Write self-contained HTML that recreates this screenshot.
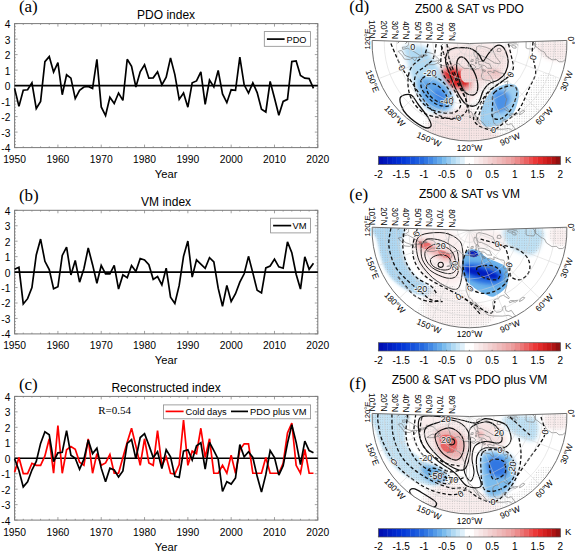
<!DOCTYPE html>
<html><head><meta charset="utf-8"><style>
html,body{margin:0;padding:0;background:#fff;}
svg{display:block;}
</style></head><body>
<svg width="575" height="552" viewBox="0 0 575 552" font-family='"Liberation Sans", sans-serif' fill="#000">
<rect width="575" height="552" fill="#fff"/>
<path d="M14.60 147.60v-3.0M14.60 23.60v3.0M23.26 147.60v-1.3M23.26 23.60v1.3M31.93 147.60v-1.3M31.93 23.60v1.3M40.59 147.60v-1.3M40.59 23.60v1.3M49.25 147.60v-1.3M49.25 23.60v1.3M57.91 147.60v-3.0M57.91 23.60v3.0M66.58 147.60v-1.3M66.58 23.60v1.3M75.24 147.60v-1.3M75.24 23.60v1.3M83.90 147.60v-1.3M83.90 23.60v1.3M92.57 147.60v-1.3M92.57 23.60v1.3M101.23 147.60v-3.0M101.23 23.60v3.0M109.89 147.60v-1.3M109.89 23.60v1.3M118.55 147.60v-1.3M118.55 23.60v1.3M127.22 147.60v-1.3M127.22 23.60v1.3M135.88 147.60v-1.3M135.88 23.60v1.3M144.54 147.60v-3.0M144.54 23.60v3.0M153.21 147.60v-1.3M153.21 23.60v1.3M161.87 147.60v-1.3M161.87 23.60v1.3M170.53 147.60v-1.3M170.53 23.60v1.3M179.19 147.60v-1.3M179.19 23.60v1.3M187.86 147.60v-3.0M187.86 23.60v3.0M196.52 147.60v-1.3M196.52 23.60v1.3M205.18 147.60v-1.3M205.18 23.60v1.3M213.85 147.60v-1.3M213.85 23.60v1.3M222.51 147.60v-1.3M222.51 23.60v1.3M231.17 147.60v-3.0M231.17 23.60v3.0M239.83 147.60v-1.3M239.83 23.60v1.3M248.50 147.60v-1.3M248.50 23.60v1.3M257.16 147.60v-1.3M257.16 23.60v1.3M265.82 147.60v-1.3M265.82 23.60v1.3M274.49 147.60v-3.0M274.49 23.60v3.0M283.15 147.60v-1.3M283.15 23.60v1.3M291.81 147.60v-1.3M291.81 23.60v1.3M300.47 147.60v-1.3M300.47 23.60v1.3M309.14 147.60v-1.3M309.14 23.60v1.3M317.80 147.60v-3.0M317.80 23.60v3.0M14.60 147.60h3.0M317.80 147.60h-3.0M14.60 144.50h1.3M317.80 144.50h-1.3M14.60 141.40h1.3M317.80 141.40h-1.3M14.60 138.30h1.3M317.80 138.30h-1.3M14.60 135.20h1.3M317.80 135.20h-1.3M14.60 132.10h3.0M317.80 132.10h-3.0M14.60 129.00h1.3M317.80 129.00h-1.3M14.60 125.90h1.3M317.80 125.90h-1.3M14.60 122.80h1.3M317.80 122.80h-1.3M14.60 119.70h1.3M317.80 119.70h-1.3M14.60 116.60h3.0M317.80 116.60h-3.0M14.60 113.50h1.3M317.80 113.50h-1.3M14.60 110.40h1.3M317.80 110.40h-1.3M14.60 107.30h1.3M317.80 107.30h-1.3M14.60 104.20h1.3M317.80 104.20h-1.3M14.60 101.10h3.0M317.80 101.10h-3.0M14.60 98.00h1.3M317.80 98.00h-1.3M14.60 94.90h1.3M317.80 94.90h-1.3M14.60 91.80h1.3M317.80 91.80h-1.3M14.60 88.70h1.3M317.80 88.70h-1.3M14.60 85.60h3.0M317.80 85.60h-3.0M14.60 82.50h1.3M317.80 82.50h-1.3M14.60 79.40h1.3M317.80 79.40h-1.3M14.60 76.30h1.3M317.80 76.30h-1.3M14.60 73.20h1.3M317.80 73.20h-1.3M14.60 70.10h3.0M317.80 70.10h-3.0M14.60 67.00h1.3M317.80 67.00h-1.3M14.60 63.90h1.3M317.80 63.90h-1.3M14.60 60.80h1.3M317.80 60.80h-1.3M14.60 57.70h1.3M317.80 57.70h-1.3M14.60 54.60h3.0M317.80 54.60h-3.0M14.60 51.50h1.3M317.80 51.50h-1.3M14.60 48.40h1.3M317.80 48.40h-1.3M14.60 45.30h1.3M317.80 45.30h-1.3M14.60 42.20h1.3M317.80 42.20h-1.3M14.60 39.10h3.0M317.80 39.10h-3.0M14.60 36.00h1.3M317.80 36.00h-1.3M14.60 32.90h1.3M317.80 32.90h-1.3M14.60 29.80h1.3M317.80 29.80h-1.3M14.60 26.70h1.3M317.80 26.70h-1.3M14.60 23.60h3.0M317.80 23.60h-3.0" stroke="#8a8a8a" stroke-width="0.8" fill="none"/>
<rect x="14.6" y="23.6" width="303.2" height="124.0" fill="none" stroke="#7a7a7a" stroke-width="1"/>
<line x1="14.6" y1="85.60" x2="317.8" y2="85.60" stroke="#000" stroke-width="1.6"/>
<polyline points="14.60,88.39 18.93,106.37 23.26,90.25 27.59,89.78 31.93,82.81 36.26,108.54 40.59,101.41 44.92,61.57 49.25,56.61 53.58,72.04 57.91,62.66 62.25,94.74 66.58,74.75 70.91,78.16 75.24,98.62 79.57,90.25 83.90,86.99 88.23,86.38 92.57,88.39 96.90,59.25 101.23,106.91 105.56,115.51 109.89,97.22 114.22,103.58 118.55,93.04 122.89,100.32 127.22,59.25 131.55,66.22 135.88,86.99 140.21,71.80 144.54,64.83 148.87,78.16 153.21,77.85 157.54,71.80 161.87,84.82 166.20,77.23 170.53,57.85 174.86,74.59 179.19,99.39 183.53,93.04 187.86,107.14 192.19,82.81 196.52,80.95 200.85,71.80 205.18,104.35 209.51,80.02 213.85,86.99 218.18,70.41 222.51,93.97 226.84,102.65 231.17,89.78 235.50,90.25 239.83,57.08 244.17,84.82 248.50,93.04 252.83,82.81 257.16,92.57 261.49,109.16 265.82,111.95 270.15,81.41 274.49,98.00 278.82,115.20 283.15,101.41 287.48,99.39 291.81,61.57 296.14,60.95 300.47,75.37 304.81,78.16 309.14,78.62 313.47,88.39" fill="none" stroke="#000" stroke-width="1.7" stroke-linejoin="miter" stroke-miterlimit="3"/>
<text x="10.4" y="152.00" text-anchor="end" font-size="10.2">-4</text>
<text x="10.4" y="136.50" text-anchor="end" font-size="10.2">-3</text>
<text x="10.4" y="121.00" text-anchor="end" font-size="10.2">-2</text>
<text x="10.4" y="105.50" text-anchor="end" font-size="10.2">-1</text>
<text x="10.4" y="90.00" text-anchor="end" font-size="10.2">0</text>
<text x="10.4" y="74.50" text-anchor="end" font-size="10.2">1</text>
<text x="10.4" y="59.00" text-anchor="end" font-size="10.2">2</text>
<text x="10.4" y="43.50" text-anchor="end" font-size="10.2">3</text>
<text x="10.4" y="28.00" text-anchor="end" font-size="10.2">4</text>
<text x="14.60" y="163.00" text-anchor="middle" font-size="10.3">1950</text>
<text x="57.91" y="163.00" text-anchor="middle" font-size="10.3">1960</text>
<text x="101.23" y="163.00" text-anchor="middle" font-size="10.3">1970</text>
<text x="144.54" y="163.00" text-anchor="middle" font-size="10.3">1980</text>
<text x="187.86" y="163.00" text-anchor="middle" font-size="10.3">1990</text>
<text x="231.17" y="163.00" text-anchor="middle" font-size="10.3">2000</text>
<text x="274.49" y="163.00" text-anchor="middle" font-size="10.3">2010</text>
<text x="317.80" y="163.00" text-anchor="middle" font-size="10.3">2020</text>
<text x="166.1" y="178.00" text-anchor="middle" font-size="11.2">Year</text>
<text x="166.1" y="18.80" text-anchor="middle" font-size="12">PDO index</text>
<text x="18.9" y="11.8" font-family='"Liberation Serif", serif' font-size="17">(a)</text>
<rect x="264.3" y="31.6" width="46.1" height="14.7" fill="#fff" stroke="#8a8a8a" stroke-width="0.8"/><line x1="266.9" y1="39.1" x2="284.6" y2="39.1" stroke="#000" stroke-width="1.7"/><text x="286.5" y="42.5" font-size="9.2">PDO</text>
<path d="M14.60 333.90v-3.0M14.60 210.30v3.0M23.26 333.90v-1.3M23.26 210.30v1.3M31.93 333.90v-1.3M31.93 210.30v1.3M40.59 333.90v-1.3M40.59 210.30v1.3M49.25 333.90v-1.3M49.25 210.30v1.3M57.91 333.90v-3.0M57.91 210.30v3.0M66.58 333.90v-1.3M66.58 210.30v1.3M75.24 333.90v-1.3M75.24 210.30v1.3M83.90 333.90v-1.3M83.90 210.30v1.3M92.57 333.90v-1.3M92.57 210.30v1.3M101.23 333.90v-3.0M101.23 210.30v3.0M109.89 333.90v-1.3M109.89 210.30v1.3M118.55 333.90v-1.3M118.55 210.30v1.3M127.22 333.90v-1.3M127.22 210.30v1.3M135.88 333.90v-1.3M135.88 210.30v1.3M144.54 333.90v-3.0M144.54 210.30v3.0M153.21 333.90v-1.3M153.21 210.30v1.3M161.87 333.90v-1.3M161.87 210.30v1.3M170.53 333.90v-1.3M170.53 210.30v1.3M179.19 333.90v-1.3M179.19 210.30v1.3M187.86 333.90v-3.0M187.86 210.30v3.0M196.52 333.90v-1.3M196.52 210.30v1.3M205.18 333.90v-1.3M205.18 210.30v1.3M213.85 333.90v-1.3M213.85 210.30v1.3M222.51 333.90v-1.3M222.51 210.30v1.3M231.17 333.90v-3.0M231.17 210.30v3.0M239.83 333.90v-1.3M239.83 210.30v1.3M248.50 333.90v-1.3M248.50 210.30v1.3M257.16 333.90v-1.3M257.16 210.30v1.3M265.82 333.90v-1.3M265.82 210.30v1.3M274.49 333.90v-3.0M274.49 210.30v3.0M283.15 333.90v-1.3M283.15 210.30v1.3M291.81 333.90v-1.3M291.81 210.30v1.3M300.47 333.90v-1.3M300.47 210.30v1.3M309.14 333.90v-1.3M309.14 210.30v1.3M317.80 333.90v-3.0M317.80 210.30v3.0M14.60 333.90h3.0M317.80 333.90h-3.0M14.60 330.81h1.3M317.80 330.81h-1.3M14.60 327.72h1.3M317.80 327.72h-1.3M14.60 324.63h1.3M317.80 324.63h-1.3M14.60 321.54h1.3M317.80 321.54h-1.3M14.60 318.45h3.0M317.80 318.45h-3.0M14.60 315.36h1.3M317.80 315.36h-1.3M14.60 312.27h1.3M317.80 312.27h-1.3M14.60 309.18h1.3M317.80 309.18h-1.3M14.60 306.09h1.3M317.80 306.09h-1.3M14.60 303.00h3.0M317.80 303.00h-3.0M14.60 299.91h1.3M317.80 299.91h-1.3M14.60 296.82h1.3M317.80 296.82h-1.3M14.60 293.73h1.3M317.80 293.73h-1.3M14.60 290.64h1.3M317.80 290.64h-1.3M14.60 287.55h3.0M317.80 287.55h-3.0M14.60 284.46h1.3M317.80 284.46h-1.3M14.60 281.37h1.3M317.80 281.37h-1.3M14.60 278.28h1.3M317.80 278.28h-1.3M14.60 275.19h1.3M317.80 275.19h-1.3M14.60 272.10h3.0M317.80 272.10h-3.0M14.60 269.01h1.3M317.80 269.01h-1.3M14.60 265.92h1.3M317.80 265.92h-1.3M14.60 262.83h1.3M317.80 262.83h-1.3M14.60 259.74h1.3M317.80 259.74h-1.3M14.60 256.65h3.0M317.80 256.65h-3.0M14.60 253.56h1.3M317.80 253.56h-1.3M14.60 250.47h1.3M317.80 250.47h-1.3M14.60 247.38h1.3M317.80 247.38h-1.3M14.60 244.29h1.3M317.80 244.29h-1.3M14.60 241.20h3.0M317.80 241.20h-3.0M14.60 238.11h1.3M317.80 238.11h-1.3M14.60 235.02h1.3M317.80 235.02h-1.3M14.60 231.93h1.3M317.80 231.93h-1.3M14.60 228.84h1.3M317.80 228.84h-1.3M14.60 225.75h3.0M317.80 225.75h-3.0M14.60 222.66h1.3M317.80 222.66h-1.3M14.60 219.57h1.3M317.80 219.57h-1.3M14.60 216.48h1.3M317.80 216.48h-1.3M14.60 213.39h1.3M317.80 213.39h-1.3M14.60 210.30h3.0M317.80 210.30h-3.0" stroke="#8a8a8a" stroke-width="0.8" fill="none"/>
<rect x="14.6" y="210.3" width="303.2" height="123.59999999999997" fill="none" stroke="#7a7a7a" stroke-width="1"/>
<line x1="14.6" y1="272.10" x2="317.8" y2="272.10" stroke="#000" stroke-width="1.6"/>
<polyline points="14.60,269.32 18.93,267.31 23.26,303.93 27.59,298.67 31.93,287.55 36.26,254.95 40.59,239.04 44.92,261.29 49.25,269.63 53.58,288.79 57.91,286.78 62.25,255.41 66.58,247.07 70.91,274.88 75.24,260.51 79.57,282.14 83.90,268.70 88.23,248.00 92.57,264.68 96.90,283.22 101.23,265.46 105.56,273.80 109.89,273.80 114.22,265.46 118.55,289.10 122.89,274.88 127.22,277.66 131.55,265.46 135.88,271.48 140.21,258.50 144.54,259.89 148.87,264.68 153.21,279.36 157.54,276.58 161.87,284.92 166.20,268.24 170.53,297.13 174.86,303.46 179.19,285.39 183.53,256.34 187.86,241.05 192.19,277.04 196.52,259.89 200.85,264.07 205.18,268.24 209.51,257.73 213.85,261.90 218.18,288.17 222.51,306.24 226.84,285.39 231.17,301.46 235.50,293.73 239.83,282.14 244.17,273.80 248.50,256.34 252.83,272.87 257.16,290.33 261.49,292.96 265.82,267.93 270.15,266.07 274.49,259.12 278.82,266.85 283.15,268.24 287.48,241.82 291.81,252.63 296.14,274.26 300.47,289.10 304.81,256.80 309.14,269.32 313.47,263.29" fill="none" stroke="#000" stroke-width="1.7" stroke-linejoin="miter" stroke-miterlimit="3"/>
<text x="10.4" y="338.30" text-anchor="end" font-size="10.2">-4</text>
<text x="10.4" y="322.85" text-anchor="end" font-size="10.2">-3</text>
<text x="10.4" y="307.40" text-anchor="end" font-size="10.2">-2</text>
<text x="10.4" y="291.95" text-anchor="end" font-size="10.2">-1</text>
<text x="10.4" y="276.50" text-anchor="end" font-size="10.2">0</text>
<text x="10.4" y="261.05" text-anchor="end" font-size="10.2">1</text>
<text x="10.4" y="245.60" text-anchor="end" font-size="10.2">2</text>
<text x="10.4" y="230.15" text-anchor="end" font-size="10.2">3</text>
<text x="10.4" y="214.70" text-anchor="end" font-size="10.2">4</text>
<text x="14.60" y="349.30" text-anchor="middle" font-size="10.3">1950</text>
<text x="57.91" y="349.30" text-anchor="middle" font-size="10.3">1960</text>
<text x="101.23" y="349.30" text-anchor="middle" font-size="10.3">1970</text>
<text x="144.54" y="349.30" text-anchor="middle" font-size="10.3">1980</text>
<text x="187.86" y="349.30" text-anchor="middle" font-size="10.3">1990</text>
<text x="231.17" y="349.30" text-anchor="middle" font-size="10.3">2000</text>
<text x="274.49" y="349.30" text-anchor="middle" font-size="10.3">2010</text>
<text x="317.80" y="349.30" text-anchor="middle" font-size="10.3">2020</text>
<text x="166.1" y="364.30" text-anchor="middle" font-size="11.2">Year</text>
<text x="166.1" y="205.50" text-anchor="middle" font-size="12">VM index</text>
<text x="18.9" y="201.0" font-family='"Liberation Serif", serif' font-size="17">(b)</text>
<rect x="270.6" y="218.2" width="39.8" height="14.7" fill="#fff" stroke="#8a8a8a" stroke-width="0.8"/><line x1="273.1" y1="225.6" x2="291.2" y2="225.6" stroke="#000" stroke-width="1.7"/><text x="292.6" y="229.1" font-size="9.4">VM</text>
<path d="M14.60 520.10v-3.0M14.60 396.40v3.0M23.26 520.10v-1.3M23.26 396.40v1.3M31.93 520.10v-1.3M31.93 396.40v1.3M40.59 520.10v-1.3M40.59 396.40v1.3M49.25 520.10v-1.3M49.25 396.40v1.3M57.91 520.10v-3.0M57.91 396.40v3.0M66.58 520.10v-1.3M66.58 396.40v1.3M75.24 520.10v-1.3M75.24 396.40v1.3M83.90 520.10v-1.3M83.90 396.40v1.3M92.57 520.10v-1.3M92.57 396.40v1.3M101.23 520.10v-3.0M101.23 396.40v3.0M109.89 520.10v-1.3M109.89 396.40v1.3M118.55 520.10v-1.3M118.55 396.40v1.3M127.22 520.10v-1.3M127.22 396.40v1.3M135.88 520.10v-1.3M135.88 396.40v1.3M144.54 520.10v-3.0M144.54 396.40v3.0M153.21 520.10v-1.3M153.21 396.40v1.3M161.87 520.10v-1.3M161.87 396.40v1.3M170.53 520.10v-1.3M170.53 396.40v1.3M179.19 520.10v-1.3M179.19 396.40v1.3M187.86 520.10v-3.0M187.86 396.40v3.0M196.52 520.10v-1.3M196.52 396.40v1.3M205.18 520.10v-1.3M205.18 396.40v1.3M213.85 520.10v-1.3M213.85 396.40v1.3M222.51 520.10v-1.3M222.51 396.40v1.3M231.17 520.10v-3.0M231.17 396.40v3.0M239.83 520.10v-1.3M239.83 396.40v1.3M248.50 520.10v-1.3M248.50 396.40v1.3M257.16 520.10v-1.3M257.16 396.40v1.3M265.82 520.10v-1.3M265.82 396.40v1.3M274.49 520.10v-3.0M274.49 396.40v3.0M283.15 520.10v-1.3M283.15 396.40v1.3M291.81 520.10v-1.3M291.81 396.40v1.3M300.47 520.10v-1.3M300.47 396.40v1.3M309.14 520.10v-1.3M309.14 396.40v1.3M317.80 520.10v-3.0M317.80 396.40v3.0M14.60 520.10h3.0M317.80 520.10h-3.0M14.60 517.01h1.3M317.80 517.01h-1.3M14.60 513.91h1.3M317.80 513.91h-1.3M14.60 510.82h1.3M317.80 510.82h-1.3M14.60 507.73h1.3M317.80 507.73h-1.3M14.60 504.64h3.0M317.80 504.64h-3.0M14.60 501.55h1.3M317.80 501.55h-1.3M14.60 498.45h1.3M317.80 498.45h-1.3M14.60 495.36h1.3M317.80 495.36h-1.3M14.60 492.27h1.3M317.80 492.27h-1.3M14.60 489.18h3.0M317.80 489.18h-3.0M14.60 486.08h1.3M317.80 486.08h-1.3M14.60 482.99h1.3M317.80 482.99h-1.3M14.60 479.90h1.3M317.80 479.90h-1.3M14.60 476.81h1.3M317.80 476.81h-1.3M14.60 473.71h3.0M317.80 473.71h-3.0M14.60 470.62h1.3M317.80 470.62h-1.3M14.60 467.53h1.3M317.80 467.53h-1.3M14.60 464.44h1.3M317.80 464.44h-1.3M14.60 461.34h1.3M317.80 461.34h-1.3M14.60 458.25h3.0M317.80 458.25h-3.0M14.60 455.16h1.3M317.80 455.16h-1.3M14.60 452.06h1.3M317.80 452.06h-1.3M14.60 448.97h1.3M317.80 448.97h-1.3M14.60 445.88h1.3M317.80 445.88h-1.3M14.60 442.79h3.0M317.80 442.79h-3.0M14.60 439.69h1.3M317.80 439.69h-1.3M14.60 436.60h1.3M317.80 436.60h-1.3M14.60 433.51h1.3M317.80 433.51h-1.3M14.60 430.42h1.3M317.80 430.42h-1.3M14.60 427.32h3.0M317.80 427.32h-3.0M14.60 424.23h1.3M317.80 424.23h-1.3M14.60 421.14h1.3M317.80 421.14h-1.3M14.60 418.05h1.3M317.80 418.05h-1.3M14.60 414.95h1.3M317.80 414.95h-1.3M14.60 411.86h3.0M317.80 411.86h-3.0M14.60 408.77h1.3M317.80 408.77h-1.3M14.60 405.68h1.3M317.80 405.68h-1.3M14.60 402.58h1.3M317.80 402.58h-1.3M14.60 399.49h1.3M317.80 399.49h-1.3M14.60 396.40h3.0M317.80 396.40h-3.0" stroke="#8a8a8a" stroke-width="0.8" fill="none"/>
<rect x="14.6" y="396.4" width="303.2" height="123.70000000000005" fill="none" stroke="#7a7a7a" stroke-width="1"/>
<line x1="14.6" y1="458.25" x2="317.8" y2="458.25" stroke="#000" stroke-width="1.6"/>
<polyline points="14.60,472.32 18.93,457.48 23.26,473.56 27.59,473.56 31.93,463.35 36.26,465.36 40.59,465.36 44.92,455.93 49.25,438.77 53.58,473.25 57.91,425.47 62.25,473.25 66.58,449.75 70.91,446.50 75.24,449.28 79.57,462.27 83.90,465.36 88.23,438.77 92.57,473.25 96.90,453.61 101.23,465.36 105.56,462.89 109.89,454.54 114.22,473.25 118.55,473.25 122.89,457.48 127.22,442.32 131.55,428.25 135.88,445.88 140.21,465.36 144.54,438.77 148.87,462.89 153.21,465.36 157.54,430.57 161.87,465.83 166.20,456.86 170.53,473.25 174.86,474.02 179.19,464.59 183.53,420.06 187.86,465.36 192.19,451.14 196.52,453.61 200.85,428.25 205.18,457.48 209.51,438.77 213.85,473.25 218.18,473.25 222.51,465.36 226.84,473.25 231.17,455.16 235.50,473.25 239.83,449.75 244.17,443.87 248.50,443.87 252.83,473.25 257.16,473.25 261.49,473.25 265.82,457.48 270.15,473.25 274.49,473.25 278.82,473.25 283.15,463.35 287.48,432.89 291.81,423.00 296.14,465.36 300.47,473.25 304.81,449.28 309.14,473.25 313.47,473.25" fill="none" stroke="#f00" stroke-width="1.7" stroke-linejoin="miter" stroke-miterlimit="3"/>
<polyline points="14.60,458.71 18.93,470.47 23.26,486.86 27.59,481.75 31.93,470.00 36.26,461.50 40.59,443.41 44.92,431.81 49.25,434.75 53.58,461.50 57.91,452.84 62.25,452.22 66.58,430.57 70.91,455.16 75.24,458.25 79.57,469.23 83.90,459.18 88.23,440.00 92.57,453.61 96.90,448.20 101.23,468.15 105.56,481.75 109.89,468.15 114.22,470.00 118.55,476.96 122.89,470.93 127.22,443.41 131.55,439.54 135.88,458.71 140.21,437.53 144.54,433.66 148.87,445.11 153.21,457.48 157.54,451.76 161.87,468.61 166.20,449.75 170.53,456.86 174.86,476.34 179.19,477.42 183.53,451.14 187.86,449.75 192.19,459.95 196.52,445.88 200.85,442.79 205.18,469.23 209.51,442.32 213.85,450.52 218.18,459.18 222.51,491.49 226.84,481.75 231.17,484.07 235.50,477.89 239.83,444.64 244.17,456.86 248.50,451.76 252.83,457.48 257.16,476.34 261.49,492.11 265.82,474.64 270.15,450.52 274.49,457.48 278.82,475.10 283.15,465.83 287.48,443.41 291.81,424.70 296.14,442.32 300.47,464.59 304.81,441.09 309.14,450.52 313.47,452.84" fill="none" stroke="#000" stroke-width="1.7" stroke-linejoin="miter" stroke-miterlimit="3"/>
<text x="10.4" y="524.50" text-anchor="end" font-size="10.2">-4</text>
<text x="10.4" y="509.04" text-anchor="end" font-size="10.2">-3</text>
<text x="10.4" y="493.57" text-anchor="end" font-size="10.2">-2</text>
<text x="10.4" y="478.11" text-anchor="end" font-size="10.2">-1</text>
<text x="10.4" y="462.65" text-anchor="end" font-size="10.2">0</text>
<text x="10.4" y="447.19" text-anchor="end" font-size="10.2">1</text>
<text x="10.4" y="431.72" text-anchor="end" font-size="10.2">2</text>
<text x="10.4" y="416.26" text-anchor="end" font-size="10.2">3</text>
<text x="10.4" y="400.80" text-anchor="end" font-size="10.2">4</text>
<text x="14.60" y="535.50" text-anchor="middle" font-size="10.3">1950</text>
<text x="57.91" y="535.50" text-anchor="middle" font-size="10.3">1960</text>
<text x="101.23" y="535.50" text-anchor="middle" font-size="10.3">1970</text>
<text x="144.54" y="535.50" text-anchor="middle" font-size="10.3">1980</text>
<text x="187.86" y="535.50" text-anchor="middle" font-size="10.3">1990</text>
<text x="231.17" y="535.50" text-anchor="middle" font-size="10.3">2000</text>
<text x="274.49" y="535.50" text-anchor="middle" font-size="10.3">2010</text>
<text x="317.80" y="535.50" text-anchor="middle" font-size="10.3">2020</text>
<text x="166.1" y="550.50" text-anchor="middle" font-size="11.2">Year</text>
<text x="166.1" y="391.60" text-anchor="middle" font-size="12">Reconstructed index</text>
<text x="18.9" y="389.8" font-family='"Liberation Serif", serif' font-size="17">(c)</text>
<rect x="163.5" y="404.9" width="147.1" height="13.9" fill="#fff" stroke="#8a8a8a" stroke-width="0.8"/><line x1="165.6" y1="411.4" x2="183.6" y2="411.4" stroke="#f00" stroke-width="1.7"/><text x="185.5" y="415" font-size="9.25">Cold days</text><line x1="231" y1="411.4" x2="248" y2="411.4" stroke="#000" stroke-width="1.7"/><text x="250.1" y="415" font-size="9.3">PDO plus VM</text><text x="98.2" y="413.8" font-family='"Liberation Serif", serif' font-size="11">R=0.54</text>
<g transform="translate(0,0.0)">
<text x="469.5" y="12.5" text-anchor="middle" font-size="12">Z500 &amp; SAT vs PDO</text>
<text x="349.3" y="11.8" font-family='"Liberation Serif", serif' font-size="17">(d)</text>
<clipPath id="clip0"><path d="M372.15 40.44L469.50 43.50L566.85 40.44A97.4 97.4 0 1 1 372.15 40.44Z"/></clipPath>
<g clip-path="url(#clip0)">
<defs>
<filter id="bl8" x="-50%" y="-50%" width="200%" height="200%"><feGaussianBlur stdDeviation="0.8"/></filter>
<filter id="bl10" x="-50%" y="-50%" width="200%" height="200%"><feGaussianBlur stdDeviation="1.0"/></filter>
<filter id="bl15" x="-50%" y="-50%" width="200%" height="200%"><feGaussianBlur stdDeviation="1.5"/></filter>
<filter id="bl20" x="-50%" y="-50%" width="200%" height="200%"><feGaussianBlur stdDeviation="2.0"/></filter>
<filter id="bl25" x="-50%" y="-50%" width="200%" height="200%"><feGaussianBlur stdDeviation="2.5"/></filter>
<filter id="bl30" x="-50%" y="-50%" width="200%" height="200%"><feGaussianBlur stdDeviation="3.0"/></filter>
<filter id="bl35" x="-50%" y="-50%" width="200%" height="200%"><feGaussianBlur stdDeviation="3.5"/></filter>
<filter id="bl40" x="-50%" y="-50%" width="200%" height="200%"><feGaussianBlur stdDeviation="4.0"/></filter>
<filter id="bl50" x="-50%" y="-50%" width="200%" height="200%"><feGaussianBlur stdDeviation="5.0"/></filter>
<pattern id="stip" width="2.4" height="2.4" patternUnits="userSpaceOnUse"><rect x="0.7" y="0.7" width="0.75" height="0.75" fill="#a8a8a8"/></pattern>
</defs><g fill="#f7e4e4" opacity="1.0" filter="url(#bl25)"><path d="M434.00 116.00C439.33 110.67 455.00 111.33 462.00 108.00C469.00 104.67 472.00 100.00 476.00 96.00C480.00 92.00 482.00 86.67 486.00 84.00C490.00 81.33 496.33 83.67 500.00 80.00C503.67 76.33 507.50 67.67 508.00 62.00C508.50 56.33 512.67 48.67 503.00 46.00C493.33 43.33 459.83 43.67 450.00 46.00C440.17 48.33 443.00 52.33 444.00 60.00C445.00 67.67 452.33 84.67 456.00 92.00C459.67 99.33 461.67 99.00 466.00 104.00C470.33 109.00 476.33 116.33 482.00 122.00C487.67 127.67 502.00 134.67 500.00 138.00C498.00 141.33 481.67 141.67 470.00 142.00C458.33 142.33 436.00 144.33 430.00 140.00C424.00 135.67 428.67 121.33 434.00 116.00Z"/></g>
<g fill="#f8e7e7" opacity="1.0" filter="url(#bl25)"><path d="M452.00 60.00C454.50 56.33 465.67 55.50 470.00 58.00C474.33 60.50 477.00 69.33 478.00 75.00C479.00 80.67 478.17 88.67 476.00 92.00C473.83 95.33 468.50 97.00 465.00 95.00C461.50 93.00 457.17 85.83 455.00 80.00C452.83 74.17 449.50 63.67 452.00 60.00Z"/></g>
<g fill="#f9ecec" opacity="1.0" filter="url(#bl20)"><path d="M537.00 43.00C540.33 40.33 560.33 39.17 565.00 42.00C569.67 44.83 568.33 57.33 565.00 60.00C561.67 62.67 549.67 60.83 545.00 58.00C540.33 55.17 533.67 45.67 537.00 43.00Z"/></g>
<g fill="#eb9696" opacity="1.0" filter="url(#bl20)"><path d="M440.00 69.00C442.00 67.00 447.33 65.50 452.00 66.00C456.67 66.50 464.67 69.00 468.00 72.00C471.33 75.00 472.33 80.83 472.00 84.00C471.67 87.17 470.00 90.33 466.00 91.00C462.00 91.67 452.33 90.17 448.00 88.00C443.67 85.83 441.33 81.17 440.00 78.00C438.67 74.83 438.00 71.00 440.00 69.00Z"/></g>
<g fill="#dc2525" opacity="1.0" filter="url(#bl15)"><path d="M443.00 72.00C445.00 70.67 450.83 69.17 455.00 70.00C459.17 70.83 466.17 74.33 468.00 77.00C469.83 79.67 469.00 84.67 466.00 86.00C463.00 87.33 453.83 86.33 450.00 85.00C446.17 83.67 444.17 80.17 443.00 78.00C441.83 75.83 441.00 73.33 443.00 72.00Z"/></g>
<g fill="#f3d2d2" opacity="1.0" filter="url(#bl22)"><path d="M462.00 70.00C464.67 67.83 474.00 68.83 480.00 69.00C486.00 69.17 494.67 69.50 498.00 71.00C501.33 72.50 502.67 76.50 500.00 78.00C497.33 79.50 488.00 79.33 482.00 80.00C476.00 80.67 467.33 83.67 464.00 82.00C460.67 80.33 459.33 72.17 462.00 70.00Z"/></g>
<g fill="#f0c3c3" opacity="1.0" filter="url(#bl15)"><ellipse cx="495" cy="72" rx="6" ry="3" transform="rotate(10 495 72)"/></g>
<g fill="#b1daf3" opacity="1.0" filter="url(#bl25)"><path d="M404.00 47.00C401.20 49.50 406.67 56.83 408.00 62.00C409.33 67.17 409.87 72.00 412.00 78.00C414.13 84.00 417.68 92.55 420.80 98.00C423.92 103.45 426.05 108.58 430.70 110.70C435.35 112.82 445.03 112.37 448.70 110.70C452.37 109.03 452.70 105.02 452.70 100.70C452.70 96.38 450.70 89.77 448.70 84.80C446.70 79.83 443.37 75.22 440.70 70.90C438.03 66.58 435.35 62.88 432.70 58.90C430.05 54.92 429.58 48.98 424.80 47.00C420.02 45.02 406.80 44.50 404.00 47.00Z"/></g>
<g fill="#60a6e9" opacity="1.0" filter="url(#bl25)"><path d="M418.80 80.80C420.63 77.13 430.02 78.47 435.00 80.00C439.98 81.53 446.20 85.67 448.70 90.00C451.20 94.33 451.78 102.67 450.00 106.00C448.22 109.33 442.33 110.67 438.00 110.00C433.67 109.33 427.20 106.87 424.00 102.00C420.80 97.13 416.97 84.47 418.80 80.80Z"/></g>
<g fill="#3d83e4" opacity="1.0" filter="url(#bl20)"><ellipse cx="440" cy="97" rx="9" ry="4.5" transform="rotate(55 440 97)"/></g>
<g fill="#9ecff1" opacity="1.0" filter="url(#bl22)"><path d="M480.40 118.00C480.23 113.50 482.40 105.00 485.00 100.00C487.60 95.00 491.50 90.67 496.00 88.00C500.50 85.33 508.17 83.33 512.00 84.00C515.83 84.67 518.67 87.33 519.00 92.00C519.33 96.67 517.17 106.67 514.00 112.00C510.83 117.33 504.67 121.50 500.00 124.00C495.33 126.50 489.27 128.00 486.00 127.00C482.73 126.00 480.57 122.50 480.40 118.00Z"/></g>
<g fill="#4b91e6" opacity="1.0" filter="url(#bl20)"><path d="M494.00 93.00C495.33 89.67 501.33 90.17 504.00 91.00C506.67 91.83 509.83 94.83 510.00 98.00C510.17 101.17 507.33 107.83 505.00 110.00C502.67 112.17 497.83 113.83 496.00 111.00C494.17 108.17 492.67 96.33 494.00 93.00Z"/></g>
<path d="M430.00 114.00C437.00 108.67 454.00 110.67 462.00 108.00C470.00 105.33 474.00 101.67 478.00 98.00C482.00 94.33 483.17 89.00 486.00 86.00C488.83 83.00 494.00 77.67 495.00 80.00C496.00 82.33 493.67 93.67 492.00 100.00C490.33 106.33 482.83 114.00 485.00 118.00C487.17 122.00 499.17 125.33 505.00 124.00C510.83 122.67 514.17 118.17 520.00 110.00C525.83 101.83 533.67 80.00 540.00 75.00C546.33 70.00 555.50 75.00 558.00 80.00C560.50 85.00 559.67 96.67 555.00 105.00C550.33 113.33 544.17 123.17 530.00 130.00C515.83 136.83 488.33 144.33 470.00 146.00C451.67 147.67 426.67 145.33 420.00 140.00C413.33 134.67 423.00 119.33 430.00 114.00Z" fill="url(#stip)"/>
<path d="M537.00 43.00C540.33 40.33 560.33 39.17 565.00 42.00C569.67 44.83 568.33 57.33 565.00 60.00C561.67 62.67 549.67 60.83 545.00 58.00C540.33 55.17 533.67 45.67 537.00 43.00Z" fill="url(#stip)"/>
<path d="M452.00 55.00C455.33 51.17 467.00 52.83 475.00 52.00C483.00 51.17 495.00 47.00 500.00 50.00C505.00 53.00 508.33 63.33 505.00 70.00C501.67 76.67 486.67 85.83 480.00 90.00C473.33 94.17 469.17 97.50 465.00 95.00C460.83 92.50 457.17 81.67 455.00 75.00C452.83 68.33 448.67 58.83 452.00 55.00Z" fill="url(#stip)" opacity="0.6"/>
<path d="M452.0 66.9L452.0 68.4L451.3 70.9L450.2 71.6L449.4 75.5L450.6 77.6L448.4 79.1L446.8 79.6L450.2 79.4L452.1 79.1L453.9 77.8L455.1 76.4L456.6 77.7L459.7 79.3L461.2 81.6L462.7 85.6L464.6 89.5L466.2 93.3L466.7 95.8L466.1 100.6L466.3 104.3L467.4 107.0L469.0 111.1L470.9 111.7L472.3 113.2L473.4 116.4L475.0 118.8L477.9 122.2L480.4 124.3L479.0 122.1L477.0 118.6L474.8 115.1L476.9 117.4L479.2 119.6L481.6 121.7L484.1 123.8L485.8 126.5L488.5 128.4L493.0 129.2L498.0 129.2L502.5 129.3L508.2 128.5L510.3 129.2L512.8 130.7L515.7 129.3L514.0 127.4L511.3 123.6L508.5 124.7L505.9 123.9L505.1 118.9L502.3 120.9L502.7 123.3L500.2 125.0L496.7 125.5L493.7 122.7L492.9 117.8L492.8 115.3L493.9 113.3L496.4 112.1L498.5 111.9L499.6 109.7L502.4 108.7L503.4 108.5L505.7 110.0L508.8 111.9L509.2 110.8L507.1 108.3L504.9 106.0L505.6 102.8L506.8 98.8L505.3 97.2L504.9 93.7L504.2 92.7L505.0 91.0L505.9 89.7L504.4 87.8L505.5 85.6L505.7 84.7L507.0 85.9L508.0 80.8L504.6 82.4L503.2 80.3L504.5 77.4L504.4 74.7L503.9 73.5L500.3 72.9L496.1 71.1L493.7 70.1L494.2 72.8L492.7 72.5L490.2 71.3L487.3 71.9L489.1 74.3L490.7 76.2L492.4 79.4L493.6 83.0L493.4 83.8L490.9 82.4L489.8 80.6L485.9 80.2L482.4 79.2L481.3 76.1L481.9 73.9L483.0 72.1L482.0 69.2L481.9 65.8L478.6 68.7L477.1 68.6L473.9 70.5L471.6 69.6L469.2 68.5L464.4 68.6L462.6 67.4L460.2 65.4L458.8 63.6L456.5 64.1L454.0 64.9L452.0 66.9M500.5 62.8L498.5 63.7L494.5 62.9L490.4 60.3L487.8 58.6L485.6 57.5L481.4 55.7L478.9 55.5L477.9 54.7L477.4 52.8L476.5 50.3L476.7 46.8L479.0 45.8L482.6 46.5L486.1 47.3L490.7 49.2L492.9 50.1L494.3 53.5L496.0 57.2L498.9 60.7L500.5 62.8M491.9 68.4L490.9 66.9L489.6 63.9L486.8 63.2L484.6 61.8L481.1 61.4L478.5 61.4L478.9 64.6L482.2 65.0L484.6 65.6L487.4 68.1L490.1 68.3L491.9 68.4M477.9 57.6L477.1 54.5L475.6 50.3L474.3 50.5L473.8 53.6L475.2 57.0L476.9 58.2L477.9 57.6M479.1 59.7L478.2 58.2L475.9 58.6L475.9 60.6L479.1 59.7M474.6 68.6L475.9 67.0L473.9 65.0L471.4 64.1L470.1 66.6L471.2 69.0L474.6 68.6M468.0 66.0L468.5 62.3L469.8 64.2L469.5 66.6L468.0 66.0M484.1 71.6L482.7 69.6L485.3 70.2L485.2 71.7L484.1 71.6M476.5 63.6L476.4 61.7L475.4 62.1L475.7 63.9L476.5 63.6M473.1 61.4L473.2 59.5L471.3 59.8L470.7 61.7L473.1 61.4M481.6 -53.2L477.2 -47.5L477.7 -40.1L470.9 -39.3L465.1 -35.5L397.7 43.2L465.7 -23.4L405.6 43.6L467.2 -19.8L408.6 42.4L408.4 45.3L405.7 47.0L402.3 47.2L402.8 49.4L407.6 48.2L412.8 50.9L419.8 55.4L425.8 54.6L426.5 52.0L433.2 53.8L439.6 59.9L437.7 62.7L440.1 65.2L444.5 65.8L449.3 67.1L451.4 66.4L451.3 64.8L449.4 58.3L448.2 55.2L448.5 53.3L449.4 48.3L447.7 45.7M439.6 59.9L434.9 61.4L432.1 61.2L426.9 64.4L429.7 64.7L433.9 64.6L438.5 62.8L440.8 61.9M398.1 51.3L401.1 50.5L402.4 51.3L404.1 54.7L406.2 56.0L410.9 57.6L412.3 58.1L409.5 59.6L404.4 59.1L402.4 55.9L401.7 55.1L398.1 51.3M412.1 57.3L417.1 57.4L415.0 60.9L413.3 59.4L412.1 57.3M417.8 57.4L422.6 56.8L427.3 55.4L424.7 55.2L420.1 56.8L417.8 57.4M500.1 51.7L497.0 51.3L497.6 48.7L500.2 48.3L501.2 50.7L500.1 51.7M518.2 45.5L516.4 43.9L513.9 43.9L512.1 45.0L509.6 45.5L507.8 44.9L507.8 43.8L509.1 43.3L512.1 43.0L514.5 42.1L517.0 42.0M515.5 48.2L513.1 48.0L511.6 46.4L513.3 45.6L515.7 46.1L516.2 48.0L515.5 48.2M526.1 41.7L526.1 42.9L526.0 47.8L527.7 48.7L533.8 49.2L535.2 46.7L534.4 43.2L532.2 41.5M535.5 41.4L535.4 46.5L537.5 47.7L541.0 50.6L544.5 52.2L546.4 56.1L551.9 59.8L556.3 59.5L559.0 61.8L562.7 61.7L565.6 59.2M509.1 114.8L510.4 113.8L514.3 113.8L518.1 113.5L515.3 115.4L512.9 114.7L509.7 115.9L509.1 114.8M520.1 112.3L522.9 110.4L524.8 110.9L522.8 113.1L519.5 114.8L520.1 112.3" fill="none" stroke="#7a7a7a" stroke-width="0.65" stroke-linejoin="round"/>
<path d="M447.00 53.30C447.92 51.22 448.78 50.03 451.10 49.10C453.42 48.17 457.42 47.70 460.90 47.70C464.38 47.70 468.98 47.93 472.00 49.10C475.02 50.27 477.15 52.72 479.00 54.70C480.85 56.68 481.48 61.23 483.10 61.00C484.72 60.77 486.62 55.75 488.70 53.30C490.78 50.85 493.52 47.58 495.60 46.30C497.68 45.02 499.57 44.90 501.20 45.60C502.83 46.30 504.23 47.83 505.40 50.50C506.57 53.17 508.20 57.88 508.20 61.60C508.20 65.32 507.03 69.78 505.40 72.80C503.77 75.82 501.18 77.85 498.40 79.70C495.62 81.55 491.25 82.03 488.70 83.90C486.15 85.77 484.72 87.88 483.10 90.90C481.48 93.92 480.62 99.45 479.00 102.00C477.38 104.55 475.73 105.97 473.40 106.20C471.07 106.43 467.78 105.95 465.00 103.40C462.22 100.85 459.25 95.77 456.70 90.90C454.15 86.03 451.55 79.08 449.70 74.20C447.85 69.32 446.05 65.08 445.60 61.60C445.15 58.12 446.08 55.38 447.00 53.30Z" fill="none" stroke="#111" stroke-width="1.3"/>
<path d="M458.10 58.90C459.25 57.05 461.52 56.35 463.60 57.50C465.68 58.65 468.50 62.57 470.60 65.80C472.70 69.03 475.03 72.95 476.20 76.90C477.37 80.85 478.07 86.48 477.60 89.50C477.13 92.52 475.50 94.53 473.40 95.00C471.30 95.47 467.32 94.62 465.00 92.30C462.68 89.98 460.88 85.05 459.50 81.10C458.12 77.15 456.93 72.30 456.70 68.60C456.47 64.90 456.95 60.75 458.10 58.90Z" fill="none" stroke="#111" stroke-width="1.3"/>
<path d="M400.90 96.80C402.55 95.15 407.95 93.60 410.80 94.80C413.65 96.00 415.00 100.02 418.00 104.00C421.00 107.98 426.68 114.93 428.80 118.70C430.92 122.47 431.70 125.28 430.70 126.60C429.70 127.92 426.78 128.58 422.80 126.60C418.82 124.62 410.45 118.35 406.80 114.70C403.15 111.05 401.88 107.68 400.90 104.70C399.92 101.72 399.25 98.45 400.90 96.80Z" fill="none" stroke="#111" stroke-width="1.3"/>
<path d="M390.90 43.60C391.58 45.22 393.17 49.25 395.00 53.30C396.83 57.35 399.27 63.32 401.90 67.90C404.53 72.48 407.32 75.65 410.80 80.80C414.28 85.95 418.82 93.48 422.80 98.80C426.78 104.12 430.38 109.38 434.70 112.70C439.02 116.02 444.72 117.87 448.70 118.70C452.68 119.53 455.62 119.03 458.60 117.70C461.58 116.37 465.37 113.65 466.60 110.70C467.83 107.75 467.10 103.78 466.00 100.00C464.90 96.22 462.17 92.33 460.00 88.00C457.83 83.67 455.33 78.67 453.00 74.00C450.67 69.33 448.00 64.83 446.00 60.00C444.00 55.17 441.83 47.50 441.00 45.00" fill="none" stroke="#111" stroke-width="1.3" stroke-dasharray="3.6 2.2"/>
<path d="M436.20 44.00C435.68 46.42 434.90 54.80 433.10 58.50C431.30 62.20 428.22 63.63 425.40 66.20C422.58 68.77 418.00 70.57 416.20 73.90C414.40 77.23 414.10 82.08 414.60 86.20C415.10 90.32 416.88 95.00 419.20 98.60C421.52 102.20 424.90 105.50 428.50 107.80C432.10 110.10 436.43 111.63 440.80 112.40C445.17 113.17 451.37 113.68 454.70 112.40C458.03 111.12 460.55 107.78 460.80 104.70C461.05 101.62 458.00 97.50 456.20 93.90C454.40 90.30 452.05 86.18 450.00 83.10C447.95 80.02 445.43 78.73 443.90 75.40C442.37 72.07 441.05 68.33 440.80 63.10C440.55 57.87 442.13 47.18 442.40 44.00" fill="none" stroke="#111" stroke-width="1.3" stroke-dasharray="3.6 2.2"/>
<path d="M422.30 78.50C423.83 76.95 426.92 75.15 430.00 75.40C433.08 75.65 437.72 77.68 440.80 80.00C443.88 82.32 446.45 85.70 448.50 89.30C450.55 92.90 453.35 98.77 453.10 101.60C452.85 104.43 450.07 106.03 447.00 106.30C443.93 106.57 438.55 105.52 434.70 103.20C430.85 100.88 426.22 95.48 423.90 92.40C421.58 89.32 421.07 87.02 420.80 84.70C420.53 82.38 420.77 80.05 422.30 78.50Z" fill="none" stroke="#111" stroke-width="1.3" stroke-dasharray="3.6 2.2"/>
<path d="M427.00 84.70C428.28 83.17 433.13 83.17 436.20 84.70C439.27 86.23 443.60 91.08 445.40 93.90C447.20 96.72 448.28 100.32 447.00 101.60C445.72 102.88 440.78 102.88 437.70 101.60C434.62 100.32 430.28 96.72 428.50 93.90C426.72 91.08 425.72 86.23 427.00 84.70Z" fill="none" stroke="#111" stroke-width="1.3" stroke-dasharray="3.6 2.2"/>
<path d="M447.00 44.00C447.33 46.33 447.67 53.00 449.00 58.00C450.33 63.00 452.67 68.33 455.00 74.00C457.33 79.67 460.83 86.67 463.00 92.00C465.17 97.33 466.83 101.67 468.00 106.00C469.17 110.33 469.67 116.00 470.00 118.00" fill="none" stroke="#111" stroke-width="1.3" stroke-dasharray="3.6 2.2"/>
<path d="M428.00 44.00C427.33 45.83 426.83 51.00 424.00 55.00C421.17 59.00 413.67 63.17 411.00 68.00C408.33 72.83 407.83 78.67 408.00 84.00C408.17 89.33 409.33 95.17 412.00 100.00C414.67 104.83 419.00 110.00 424.00 113.00C429.00 116.00 436.00 117.17 442.00 118.00C448.00 118.83 457.00 118.00 460.00 118.00" fill="none" stroke="#111" stroke-width="1.3" stroke-dasharray="3.6 2.2"/>
<path d="M508.50 44.00C509.12 46.67 511.38 56.12 512.20 60.00C513.02 63.88 513.70 64.87 513.40 67.30C513.10 69.73 512.20 72.30 510.40 74.60C508.60 76.90 505.52 78.87 502.60 81.10C499.68 83.33 495.68 85.45 492.90 88.00C490.12 90.55 487.77 93.15 485.90 96.40C484.03 99.65 483.18 103.57 481.70 107.50C480.22 111.43 477.78 117.92 477.00 120.00" fill="none" stroke="#111" stroke-width="1.3" stroke-dasharray="3.6 2.2"/>
<path d="M533.00 42.00C532.88 43.98 532.00 49.90 532.30 53.90C532.60 57.90 534.28 62.55 534.80 66.00C535.32 69.45 536.32 70.93 535.40 74.60C534.48 78.27 532.08 82.10 529.30 88.00C526.52 93.90 522.78 104.30 518.70 110.00C514.62 115.70 509.00 118.87 504.80 122.20C500.60 125.53 496.40 128.85 493.50 130.00C490.60 131.15 489.87 129.82 487.40 129.10C484.93 128.38 481.02 127.43 478.70 125.70C476.38 123.97 473.78 121.32 473.50 118.70C473.22 116.08 474.68 114.35 477.00 110.00C479.32 105.65 483.35 97.23 487.40 92.60C491.45 87.97 497.25 85.38 501.30 82.20C505.35 79.02 509.97 74.95 511.70 73.50" fill="none" stroke="#111" stroke-width="1.3" stroke-dasharray="3.6 2.2"/>
<path d="M494.30 92.60C497.20 89.42 506.22 85.98 510.00 85.70C513.78 85.42 516.72 87.13 517.00 90.90C517.28 94.67 514.32 103.67 511.70 108.30C509.08 112.93 504.48 117.25 501.30 118.70C498.12 120.15 494.05 119.32 492.60 117.00C491.15 114.68 492.32 108.87 492.60 104.80C492.88 100.73 491.40 95.78 494.30 92.60Z" fill="none" stroke="#111" stroke-width="1.3" stroke-dasharray="3.6 2.2"/>
<text transform="translate(401.9,67.9) rotate(60)" text-anchor="middle" y="3.2" font-size="9" fill="#111" stroke="#fff" stroke-width="1.6" paint-order="stroke" stroke-opacity="0.85">0</text>
<text transform="translate(458.6,117.7) rotate(-30)" text-anchor="middle" y="3.2" font-size="9" fill="#111" stroke="#fff" stroke-width="1.6" paint-order="stroke" stroke-opacity="0.85">0</text>
<text transform="translate(430,73.1) rotate(0)" text-anchor="middle" y="3.2" font-size="9" fill="#111" stroke="#fff" stroke-width="1.6" paint-order="stroke" stroke-opacity="0.85">-20</text>
<text transform="translate(447,100.9) rotate(0)" text-anchor="middle" y="3.2" font-size="9" fill="#111" stroke="#fff" stroke-width="1.6" paint-order="stroke" stroke-opacity="0.85">-40</text>
<text transform="translate(510.4,74.6) rotate(-60)" text-anchor="middle" y="3.2" font-size="9" fill="#111" stroke="#fff" stroke-width="1.6" paint-order="stroke" stroke-opacity="0.85">0</text>
<text transform="translate(493.5,130) rotate(0)" text-anchor="middle" y="3.2" font-size="9" fill="#111" stroke="#fff" stroke-width="1.6" paint-order="stroke" stroke-opacity="0.85">0</text>
<text transform="translate(533,57.5) rotate(-80)" text-anchor="middle" y="3.2" font-size="9" fill="#111" stroke="#fff" stroke-width="1.6" paint-order="stroke" stroke-opacity="0.85">0</text>
<text transform="translate(412.8,47) rotate(0)" text-anchor="middle" y="3.2" font-size="9" fill="#111" stroke="#fff" stroke-width="1.6" paint-order="stroke" stroke-opacity="0.85">0</text>
<g fill="none" stroke="#d2d2d2" stroke-width="0.5"><circle cx="469.5" cy="43.5" r="85.22"/><circle cx="469.5" cy="43.5" r="73.05"/><circle cx="469.5" cy="43.5" r="60.88"/><circle cx="469.5" cy="43.5" r="48.70"/><circle cx="469.5" cy="43.5" r="36.52"/><circle cx="469.5" cy="43.5" r="24.35"/><circle cx="469.5" cy="43.5" r="12.18"/><line x1="469.5" y1="43.5" x2="378.66" y2="78.64"/><line x1="469.5" y1="43.5" x2="399.55" y2="111.28"/><line x1="469.5" y1="43.5" x2="431.52" y2="133.19"/><line x1="469.5" y1="43.5" x2="469.50" y2="140.90"/><line x1="469.5" y1="43.5" x2="507.48" y2="133.19"/><line x1="469.5" y1="43.5" x2="539.45" y2="111.28"/><line x1="469.5" y1="43.5" x2="560.34" y2="78.64"/></g>
</g>
<path d="M372.15 40.44L469.50 43.50L566.85 40.44A97.4 97.4 0 1 1 372.15 40.44Z" fill="none" stroke="#707070" stroke-width="1.0"/>
<text transform="translate(372.60,80.99) rotate(68.8)" y="3.1" text-anchor="middle" font-size="8.5">150°E</text>
<text transform="translate(394.89,115.81) rotate(45.9)" y="3.1" text-anchor="middle" font-size="8.5">180°W</text>
<text transform="translate(428.99,139.18) rotate(23.0)" y="3.1" text-anchor="middle" font-size="8.5">150°W</text>
<text transform="translate(469.50,147.40) rotate(0.0)" y="3.1" text-anchor="middle" font-size="8.5">120°W</text>
<text transform="translate(510.01,139.18) rotate(-23.0)" y="3.1" text-anchor="middle" font-size="8.5">90°W</text>
<text transform="translate(544.11,115.81) rotate(-45.9)" y="3.1" text-anchor="middle" font-size="8.5">60°W</text>
<text transform="translate(566.40,80.99) rotate(-68.8)" y="3.1" text-anchor="middle" font-size="8.5">30°W</text>
<text transform="translate(372.40,38.40) rotate(90)" y="3" text-anchor="end" font-size="8.2">10°N</text>
<text transform="translate(383.70,38.75) rotate(90)" y="3" text-anchor="end" font-size="8.2">20°N</text>
<text transform="translate(395.00,39.10) rotate(90)" y="3" text-anchor="end" font-size="8.2">30°N</text>
<text transform="translate(406.30,39.45) rotate(90)" y="3" text-anchor="end" font-size="8.2">40°N</text>
<text transform="translate(417.60,39.80) rotate(90)" y="3" text-anchor="end" font-size="8.2">50°N</text>
<text transform="translate(428.90,40.15) rotate(90)" y="3" text-anchor="end" font-size="8.2">60°N</text>
<text transform="translate(440.20,40.50) rotate(90)" y="3" text-anchor="end" font-size="8.2">70°N</text>
<text transform="translate(451.50,40.85) rotate(90)" y="3" text-anchor="end" font-size="8.2">80°N</text>
<text transform="translate(367.3,49.6) rotate(-90)" y="3" font-size="7.7">120°E</text>
<text transform="translate(570.6,36.6) rotate(90)" y="3" font-size="8.2">0°</text>
<g transform="translate(0,0.0)"><rect x="378.40" y="156.3" width="4.85" height="8.30" fill="#000eb3"/>
<rect x="382.95" y="156.3" width="4.85" height="8.30" fill="#0016bb"/>
<rect x="387.50" y="156.3" width="4.85" height="8.30" fill="#001ec3"/>
<rect x="392.04" y="156.3" width="4.85" height="8.30" fill="#0026cb"/>
<rect x="396.59" y="156.3" width="4.85" height="8.30" fill="#002ed3"/>
<rect x="401.14" y="156.3" width="4.85" height="8.30" fill="#0438d8"/>
<rect x="405.68" y="156.3" width="4.85" height="8.30" fill="#0c44da"/>
<rect x="410.23" y="156.3" width="4.85" height="8.30" fill="#1450dc"/>
<rect x="414.78" y="156.3" width="4.85" height="8.30" fill="#1c5cde"/>
<rect x="419.33" y="156.3" width="4.85" height="8.30" fill="#2468e0"/>
<rect x="423.88" y="156.3" width="4.85" height="8.30" fill="#3177e2"/>
<rect x="428.42" y="156.3" width="4.85" height="8.30" fill="#4288e5"/>
<rect x="432.97" y="156.3" width="4.85" height="8.30" fill="#549ae7"/>
<rect x="437.52" y="156.3" width="4.85" height="8.30" fill="#65abea"/>
<rect x="442.06" y="156.3" width="4.85" height="8.30" fill="#7bbced"/>
<rect x="446.61" y="156.3" width="4.85" height="8.30" fill="#96caf0"/>
<rect x="451.16" y="156.3" width="4.85" height="8.30" fill="#b1daf3"/>
<rect x="455.71" y="156.3" width="4.85" height="8.30" fill="#c9e6f7"/>
<rect x="460.25" y="156.3" width="4.85" height="8.30" fill="#dff0fa"/>
<rect x="464.80" y="156.3" width="4.85" height="8.30" fill="#ffffff"/>
<rect x="469.35" y="156.3" width="4.85" height="8.30" fill="#ffffff"/>
<rect x="473.90" y="156.3" width="4.85" height="8.30" fill="#faf0f0"/>
<rect x="478.44" y="156.3" width="4.85" height="8.30" fill="#f8e7e7"/>
<rect x="482.99" y="156.3" width="4.85" height="8.30" fill="#f5dddd"/>
<rect x="487.54" y="156.3" width="4.85" height="8.30" fill="#f3d2d2"/>
<rect x="492.09" y="156.3" width="4.85" height="8.30" fill="#f1c8c8"/>
<rect x="496.63" y="156.3" width="4.85" height="8.30" fill="#efbdbd"/>
<rect x="501.18" y="156.3" width="4.85" height="8.30" fill="#eeb2b2"/>
<rect x="505.73" y="156.3" width="4.85" height="8.30" fill="#eda7a7"/>
<rect x="510.28" y="156.3" width="4.85" height="8.30" fill="#ec9c9c"/>
<rect x="514.82" y="156.3" width="4.85" height="8.30" fill="#eb8b8b"/>
<rect x="519.37" y="156.3" width="4.85" height="8.30" fill="#eb7676"/>
<rect x="523.92" y="156.3" width="4.85" height="8.30" fill="#eb6262"/>
<rect x="528.47" y="156.3" width="4.85" height="8.30" fill="#eb4c4c"/>
<rect x="533.01" y="156.3" width="4.85" height="8.30" fill="#eb3737"/>
<rect x="537.56" y="156.3" width="4.85" height="8.30" fill="#e32929"/>
<rect x="542.11" y="156.3" width="4.85" height="8.30" fill="#d42020"/>
<rect x="546.66" y="156.3" width="4.85" height="8.30" fill="#c61818"/>
<rect x="551.20" y="156.3" width="4.85" height="8.30" fill="#af1313"/>
<rect x="555.75" y="156.3" width="4.85" height="8.30" fill="#911010"/>
<rect x="378.4" y="156.3" width="181.90" height="8.30" fill="none" stroke="#555" stroke-width="0.7"/>
<text x="378.40" y="177.5" text-anchor="middle" font-size="10">-2</text>
<line x1="378.40" y1="164.6" x2="378.40" y2="163.4" stroke="#555" stroke-width="0.6"/>
<text x="401.14" y="177.5" text-anchor="middle" font-size="10">-1.5</text>
<line x1="401.14" y1="164.6" x2="401.14" y2="163.4" stroke="#555" stroke-width="0.6"/>
<text x="423.88" y="177.5" text-anchor="middle" font-size="10">-1</text>
<line x1="423.88" y1="164.6" x2="423.88" y2="163.4" stroke="#555" stroke-width="0.6"/>
<text x="446.61" y="177.5" text-anchor="middle" font-size="10">-0.5</text>
<line x1="446.61" y1="164.6" x2="446.61" y2="163.4" stroke="#555" stroke-width="0.6"/>
<text x="469.35" y="177.5" text-anchor="middle" font-size="10">0</text>
<line x1="469.35" y1="164.6" x2="469.35" y2="163.4" stroke="#555" stroke-width="0.6"/>
<text x="492.09" y="177.5" text-anchor="middle" font-size="10">0.5</text>
<line x1="492.09" y1="164.6" x2="492.09" y2="163.4" stroke="#555" stroke-width="0.6"/>
<text x="514.82" y="177.5" text-anchor="middle" font-size="10">1</text>
<line x1="514.82" y1="164.6" x2="514.82" y2="163.4" stroke="#555" stroke-width="0.6"/>
<text x="537.56" y="177.5" text-anchor="middle" font-size="10">1.5</text>
<line x1="537.56" y1="164.6" x2="537.56" y2="163.4" stroke="#555" stroke-width="0.6"/>
<text x="560.30" y="177.5" text-anchor="middle" font-size="10">2</text>
<line x1="560.30" y1="164.6" x2="560.30" y2="163.4" stroke="#555" stroke-width="0.6"/>
<text x="565" y="163" font-size="9.5">K</text></g>
</g>
<g transform="translate(0,186.8)">
<text x="469.5" y="11.7" text-anchor="middle" font-size="12">Z500 &amp; SAT vs VM</text>
<text x="349.3" y="13.5" font-family='"Liberation Serif", serif' font-size="17">(e)</text>
<clipPath id="clip1"><path d="M372.15 40.44L469.50 43.50L566.85 40.44A97.4 97.4 0 1 1 372.15 40.44Z"/></clipPath>
<g clip-path="url(#clip1)">
<g fill="#aed8f3" opacity="1.0" filter="url(#bl15)"><path d="M373.00 41.20C368.70 43.18 375.33 47.13 377.00 53.10C378.67 59.07 380.35 70.35 383.00 77.00C385.65 83.65 388.27 88.35 392.90 93.00C397.53 97.65 404.28 102.07 410.80 104.90C417.32 107.73 427.80 109.82 432.00 110.00C436.20 110.18 437.20 108.18 436.00 106.00C434.80 103.82 428.67 100.07 424.80 96.90C420.93 93.73 416.13 90.98 412.80 87.00C409.47 83.02 406.78 77.98 404.80 73.00C402.82 68.02 401.23 62.40 400.90 57.10C400.57 51.80 407.45 43.85 402.80 41.20C398.15 38.55 377.30 39.22 373.00 41.20Z"/></g>
<g fill="#faeeee" opacity="1.0" filter="url(#bl25)"><path d="M418.00 44.00C423.83 40.33 442.67 41.67 450.00 44.00C457.33 46.33 459.83 50.33 462.00 58.00C464.17 65.67 465.00 83.17 463.00 90.00C461.00 96.83 456.33 99.33 450.00 99.00C443.67 98.67 430.83 93.50 425.00 88.00C419.17 82.50 416.17 73.33 415.00 66.00C413.83 58.67 412.17 47.67 418.00 44.00Z"/></g>
<g fill="#eeb2b2" opacity="1.0" filter="url(#bl20)"><path d="M417.00 53.00C418.67 51.83 424.17 52.67 428.00 54.00C431.83 55.33 436.33 59.17 440.00 61.00C443.67 62.83 447.83 63.17 450.00 65.00C452.17 66.83 453.83 70.50 453.00 72.00C452.17 73.50 448.83 75.00 445.00 74.00C441.17 73.00 434.50 68.17 430.00 66.00C425.50 63.83 420.17 63.17 418.00 61.00C415.83 58.83 415.33 54.17 417.00 53.00Z"/></g>
<g fill="#eb6c6c" opacity="1.0" filter="url(#bl12)"><path d="M419.00 55.00C419.67 54.00 425.83 55.17 428.00 56.00C430.17 56.83 432.67 59.00 432.00 60.00C431.33 61.00 426.17 62.83 424.00 62.00C421.83 61.17 418.33 56.00 419.00 55.00Z"/></g>
<g fill="#eb8181" opacity="1.0" filter="url(#bl12)"><path d="M438.00 63.00C439.00 62.33 446.00 64.67 448.00 66.00C450.00 67.33 451.00 70.33 450.00 71.00C449.00 71.67 444.00 71.33 442.00 70.00C440.00 68.67 437.00 63.67 438.00 63.00Z"/></g>
<g fill="#faf0f0" opacity="1.0" filter="url(#bl25)"><path d="M470.00 45.00C475.00 42.83 494.17 42.50 500.00 45.00C505.83 47.50 507.50 57.17 505.00 60.00C502.50 62.83 490.83 62.33 485.00 62.00C479.17 61.67 472.50 60.83 470.00 58.00C467.50 55.17 465.00 47.17 470.00 45.00Z"/></g>
<g fill="#bee1f5" opacity="1.0" filter="url(#bl20)"><path d="M505.00 42.00C510.17 39.00 535.17 39.00 541.00 42.00C546.83 45.00 541.83 55.67 540.00 60.00C538.17 64.33 535.00 68.00 530.00 68.00C525.00 68.00 514.17 64.33 510.00 60.00C505.83 55.67 499.83 45.00 505.00 42.00Z"/></g>
<g fill="#faf0f0" opacity="1.0" filter="url(#bl20)"><path d="M551.00 42.00C553.33 39.67 563.50 39.33 566.00 42.00C568.50 44.67 568.33 55.67 566.00 58.00C563.67 60.33 554.50 58.67 552.00 56.00C549.50 53.33 548.67 44.33 551.00 42.00Z"/></g>
<g fill="#fbf3f3" opacity="1.0" filter="url(#bl30)"><path d="M428.00 104.00C432.17 97.67 448.00 98.67 455.00 100.00C462.00 101.33 463.33 107.33 470.00 112.00C476.67 116.67 495.00 123.00 495.00 128.00C495.00 133.00 480.83 140.33 470.00 142.00C459.17 143.67 437.00 144.33 430.00 138.00C423.00 131.67 423.83 110.33 428.00 104.00Z"/></g>
<g fill="#6eb4eb" opacity="1.0" filter="url(#bl18)"><path d="M462.50 73.20C463.42 70.42 465.45 65.12 468.00 63.50C470.55 61.88 474.77 62.33 477.80 63.50C480.83 64.67 482.72 68.42 486.20 70.50C489.68 72.58 495.47 74.38 498.70 76.00C501.93 77.62 503.98 77.87 505.60 80.20C507.22 82.53 508.40 86.53 508.40 90.00C508.40 93.47 507.92 97.77 505.60 101.00C503.28 104.23 497.73 108.23 494.50 109.40C491.27 110.57 489.90 109.62 486.20 108.00C482.50 106.38 476.02 102.70 472.30 99.70C468.58 96.70 465.53 93.25 463.90 90.00C462.27 86.75 462.73 83.00 462.50 80.20C462.27 77.40 461.58 75.98 462.50 73.20Z"/></g>
<g fill="#2468e0" opacity="1.0" filter="url(#bl20)"><path d="M464.00 78.00C466.33 76.00 474.33 76.33 480.00 77.00C485.67 77.67 494.17 79.83 498.00 82.00C501.83 84.17 503.17 87.50 503.00 90.00C502.83 92.50 500.83 96.00 497.00 97.00C493.17 98.00 485.17 97.33 480.00 96.00C474.83 94.67 468.67 92.00 466.00 89.00C463.33 86.00 461.67 80.00 464.00 78.00Z"/></g>
<g fill="#001abf" opacity="1.0" filter="url(#bl15)"><path d="M466.00 80.00C468.00 79.33 474.83 80.75 480.00 82.00C485.17 83.25 494.33 85.83 497.00 87.50C499.67 89.17 498.33 91.50 496.00 92.00C493.67 92.50 487.67 91.50 483.00 90.50C478.33 89.50 470.83 87.75 468.00 86.00C465.17 84.25 464.00 80.67 466.00 80.00Z"/></g>
<g fill="#001abf" opacity="1.0" filter="url(#bl12)"><ellipse cx="473" cy="67" rx="5" ry="3.2" transform="rotate(10 473 67)"/></g>
<path d="M373.00 41.20C368.70 43.18 375.33 47.13 377.00 53.10C378.67 59.07 380.35 70.35 383.00 77.00C385.65 83.65 388.27 88.35 392.90 93.00C397.53 97.65 404.28 102.07 410.80 104.90C417.32 107.73 427.80 109.82 432.00 110.00C436.20 110.18 437.20 108.18 436.00 106.00C434.80 103.82 428.67 100.07 424.80 96.90C420.93 93.73 416.13 90.98 412.80 87.00C409.47 83.02 406.78 77.98 404.80 73.00C402.82 68.02 401.23 62.40 400.90 57.10C400.57 51.80 407.45 43.85 402.80 41.20C398.15 38.55 377.30 39.22 373.00 41.20Z" fill="url(#stip)" opacity="1.0"/>
<path d="M505.00 42.00C510.17 39.00 535.17 39.00 541.00 42.00C546.83 45.00 541.83 55.67 540.00 60.00C538.17 64.33 535.00 68.00 530.00 68.00C525.00 68.00 514.17 64.33 510.00 60.00C505.83 55.67 499.83 45.00 505.00 42.00Z" fill="url(#stip)" opacity="1.0"/>
<path d="M428.00 100.00C433.83 93.33 448.00 98.00 455.00 100.00C462.00 102.00 463.33 107.33 470.00 112.00C476.67 116.67 495.00 122.50 495.00 128.00C495.00 133.50 482.50 143.00 470.00 145.00C457.50 147.00 427.00 147.50 420.00 140.00C413.00 132.50 422.17 106.67 428.00 100.00Z" fill="url(#stip)" opacity="1.0"/>
<path d="M551.00 42.00C553.33 39.67 563.50 39.33 566.00 42.00C568.50 44.67 568.33 55.67 566.00 58.00C563.67 60.33 554.50 58.67 552.00 56.00C549.50 53.33 548.67 44.33 551.00 42.00Z" fill="url(#stip)" opacity="1.0"/>
<path d="M452.0 66.9L452.0 68.4L451.3 70.9L450.2 71.6L449.4 75.5L450.6 77.6L448.4 79.1L446.8 79.6L450.2 79.4L452.1 79.1L453.9 77.8L455.1 76.4L456.6 77.7L459.7 79.3L461.2 81.6L462.7 85.6L464.6 89.5L466.2 93.3L466.7 95.8L466.1 100.6L466.3 104.3L467.4 107.0L469.0 111.1L470.9 111.7L472.3 113.2L473.4 116.4L475.0 118.8L477.9 122.2L480.4 124.3L479.0 122.1L477.0 118.6L474.8 115.1L476.9 117.4L479.2 119.6L481.6 121.7L484.1 123.8L485.8 126.5L488.5 128.4L493.0 129.2L498.0 129.2L502.5 129.3L508.2 128.5L510.3 129.2L512.8 130.7L515.7 129.3L514.0 127.4L511.3 123.6L508.5 124.7L505.9 123.9L505.1 118.9L502.3 120.9L502.7 123.3L500.2 125.0L496.7 125.5L493.7 122.7L492.9 117.8L492.8 115.3L493.9 113.3L496.4 112.1L498.5 111.9L499.6 109.7L502.4 108.7L503.4 108.5L505.7 110.0L508.8 111.9L509.2 110.8L507.1 108.3L504.9 106.0L505.6 102.8L506.8 98.8L505.3 97.2L504.9 93.7L504.2 92.7L505.0 91.0L505.9 89.7L504.4 87.8L505.5 85.6L505.7 84.7L507.0 85.9L508.0 80.8L504.6 82.4L503.2 80.3L504.5 77.4L504.4 74.7L503.9 73.5L500.3 72.9L496.1 71.1L493.7 70.1L494.2 72.8L492.7 72.5L490.2 71.3L487.3 71.9L489.1 74.3L490.7 76.2L492.4 79.4L493.6 83.0L493.4 83.8L490.9 82.4L489.8 80.6L485.9 80.2L482.4 79.2L481.3 76.1L481.9 73.9L483.0 72.1L482.0 69.2L481.9 65.8L478.6 68.7L477.1 68.6L473.9 70.5L471.6 69.6L469.2 68.5L464.4 68.6L462.6 67.4L460.2 65.4L458.8 63.6L456.5 64.1L454.0 64.9L452.0 66.9M500.5 62.8L498.5 63.7L494.5 62.9L490.4 60.3L487.8 58.6L485.6 57.5L481.4 55.7L478.9 55.5L477.9 54.7L477.4 52.8L476.5 50.3L476.7 46.8L479.0 45.8L482.6 46.5L486.1 47.3L490.7 49.2L492.9 50.1L494.3 53.5L496.0 57.2L498.9 60.7L500.5 62.8M491.9 68.4L490.9 66.9L489.6 63.9L486.8 63.2L484.6 61.8L481.1 61.4L478.5 61.4L478.9 64.6L482.2 65.0L484.6 65.6L487.4 68.1L490.1 68.3L491.9 68.4M477.9 57.6L477.1 54.5L475.6 50.3L474.3 50.5L473.8 53.6L475.2 57.0L476.9 58.2L477.9 57.6M479.1 59.7L478.2 58.2L475.9 58.6L475.9 60.6L479.1 59.7M474.6 68.6L475.9 67.0L473.9 65.0L471.4 64.1L470.1 66.6L471.2 69.0L474.6 68.6M468.0 66.0L468.5 62.3L469.8 64.2L469.5 66.6L468.0 66.0M484.1 71.6L482.7 69.6L485.3 70.2L485.2 71.7L484.1 71.6M476.5 63.6L476.4 61.7L475.4 62.1L475.7 63.9L476.5 63.6M473.1 61.4L473.2 59.5L471.3 59.8L470.7 61.7L473.1 61.4M481.6 -53.2L477.2 -47.5L477.7 -40.1L470.9 -39.3L465.1 -35.5L397.7 43.2L465.7 -23.4L405.6 43.6L467.2 -19.8L408.6 42.4L408.4 45.3L405.7 47.0L402.3 47.2L402.8 49.4L407.6 48.2L412.8 50.9L419.8 55.4L425.8 54.6L426.5 52.0L433.2 53.8L439.6 59.9L437.7 62.7L440.1 65.2L444.5 65.8L449.3 67.1L451.4 66.4L451.3 64.8L449.4 58.3L448.2 55.2L448.5 53.3L449.4 48.3L447.7 45.7M439.6 59.9L434.9 61.4L432.1 61.2L426.9 64.4L429.7 64.7L433.9 64.6L438.5 62.8L440.8 61.9M398.1 51.3L401.1 50.5L402.4 51.3L404.1 54.7L406.2 56.0L410.9 57.6L412.3 58.1L409.5 59.6L404.4 59.1L402.4 55.9L401.7 55.1L398.1 51.3M412.1 57.3L417.1 57.4L415.0 60.9L413.3 59.4L412.1 57.3M417.8 57.4L422.6 56.8L427.3 55.4L424.7 55.2L420.1 56.8L417.8 57.4M500.1 51.7L497.0 51.3L497.6 48.7L500.2 48.3L501.2 50.7L500.1 51.7M518.2 45.5L516.4 43.9L513.9 43.9L512.1 45.0L509.6 45.5L507.8 44.9L507.8 43.8L509.1 43.3L512.1 43.0L514.5 42.1L517.0 42.0M515.5 48.2L513.1 48.0L511.6 46.4L513.3 45.6L515.7 46.1L516.2 48.0L515.5 48.2M526.1 41.7L526.1 42.9L526.0 47.8L527.7 48.7L533.8 49.2L535.2 46.7L534.4 43.2L532.2 41.5M535.5 41.4L535.4 46.5L537.5 47.7L541.0 50.6L544.5 52.2L546.4 56.1L551.9 59.8L556.3 59.5L559.0 61.8L562.7 61.7L565.6 59.2M509.1 114.8L510.4 113.8L514.3 113.8L518.1 113.5L515.3 115.4L512.9 114.7L509.7 115.9L509.1 114.8M520.1 112.3L522.9 110.4L524.8 110.9L522.8 113.1L519.5 114.8L520.1 112.3" fill="none" stroke="#7a7a7a" stroke-width="0.65" stroke-linejoin="round"/>
<path d="M416.80 53.10C418.13 50.10 420.15 48.25 424.80 47.10C429.45 45.95 439.07 45.20 444.70 46.20C450.33 47.20 455.62 50.28 458.60 53.10C461.58 55.92 461.93 58.12 462.60 63.10C463.27 68.08 463.27 76.70 462.60 83.00C461.93 89.30 460.92 97.92 458.60 100.90C456.28 103.88 453.02 102.55 448.70 100.90C444.38 99.25 437.35 94.98 432.70 91.00C428.05 87.02 423.45 81.32 420.80 77.00C418.15 72.68 417.47 69.08 416.80 65.10C416.13 61.12 415.47 56.10 416.80 53.10Z" fill="none" stroke="#111" stroke-width="0.95"/>
<path d="M422.50 56.30C423.67 54.68 425.08 52.57 428.10 52.10C431.12 51.63 436.67 52.33 440.60 53.50C444.53 54.67 448.92 57.25 451.70 59.10C454.48 60.95 456.13 61.13 457.30 64.60C458.47 68.07 458.93 75.72 458.70 79.90C458.47 84.08 457.98 87.83 455.90 89.70C453.82 91.57 450.37 92.03 446.20 91.10C442.03 90.17 434.85 87.12 430.90 84.10C426.95 81.08 424.13 76.72 422.50 73.00C420.87 69.28 421.10 64.58 421.10 61.80C421.10 59.02 421.33 57.92 422.50 56.30Z" fill="none" stroke="#111" stroke-width="0.95"/>
<path d="M425.30 64.60C426.45 61.82 430.82 58.67 433.60 57.70C436.38 56.73 439.22 57.88 442.00 58.80C444.78 59.72 448.22 61.30 450.30 63.20C452.38 65.10 453.57 66.95 454.50 70.20C455.43 73.45 456.83 79.92 455.90 82.70C454.97 85.48 452.38 86.90 448.90 86.90C445.42 86.90 438.70 84.78 435.00 82.70C431.30 80.62 428.32 77.42 426.70 74.40C425.08 71.38 424.15 67.38 425.30 64.60Z" fill="none" stroke="#111" stroke-width="0.95"/>
<path d="M430.50 72.60C431.18 70.75 434.78 69.02 437.40 68.40C440.02 67.78 443.98 67.97 446.20 68.90C448.42 69.83 449.95 71.93 450.70 74.00C451.45 76.07 451.98 79.77 450.70 81.30C449.42 82.83 445.90 83.50 443.00 83.20C440.10 82.90 435.38 81.27 433.30 79.50C431.22 77.73 429.82 74.45 430.50 72.60Z" fill="none" stroke="#111" stroke-width="0.95"/>
<path d="M443.30 78.00C443.30 78.43 443.17 78.92 442.95 79.30C442.73 79.68 442.38 80.03 442.00 80.25C441.62 80.47 441.13 80.60 440.70 80.60C440.27 80.60 439.78 80.47 439.40 80.25C439.02 80.03 438.67 79.68 438.45 79.30C438.23 78.92 438.10 78.43 438.10 78.00C438.10 77.57 438.23 77.08 438.45 76.70C438.67 76.32 439.02 75.97 439.40 75.75C439.78 75.53 440.27 75.40 440.70 75.40C441.13 75.40 441.62 75.53 442.00 75.75C442.38 75.97 442.73 76.32 442.95 76.70C443.17 77.08 443.30 77.57 443.30 78.00Z" fill="none" stroke="#111" stroke-width="1.1"/>
<path d="M390.90 41.20C390.57 44.18 388.23 52.80 388.90 59.10C389.57 65.40 391.92 73.35 394.90 79.00C397.88 84.65 402.48 88.68 406.80 93.00C411.12 97.32 416.82 101.58 420.80 104.90C424.78 108.22 427.05 111.23 430.70 112.90C434.35 114.57 440.70 114.57 442.70 114.90" fill="none" stroke="#111" stroke-width="1.3" stroke-dasharray="3.6 2.2"/>
<path d="M404.80 41.00C404.47 44.02 402.47 53.10 402.80 59.10C403.13 65.10 404.47 71.68 406.80 77.00C409.13 82.32 412.82 87.35 416.80 91.00C420.78 94.65 427.38 96.25 430.70 98.90C434.02 101.55 435.70 105.57 436.70 106.90" fill="none" stroke="#111" stroke-width="1.3" stroke-dasharray="3.6 2.2"/>
<path d="M417.50 41.00C416.72 44.02 413.25 53.43 412.80 59.10C412.35 64.77 412.80 70.02 414.80 75.00C416.80 79.98 420.48 85.02 424.80 89.00C429.12 92.98 435.40 95.92 440.70 98.90C446.00 101.88 451.95 104.23 456.60 106.90C461.25 109.57 464.70 111.55 468.60 114.90C472.50 118.25 478.10 124.98 480.00 127.00" fill="none" stroke="#111" stroke-width="1.3" stroke-dasharray="3.6 2.2"/>
<path d="M398.00 90.00C400.80 93.15 409.35 104.75 414.80 108.90C420.25 113.05 426.38 114.23 430.70 114.90C435.02 115.57 439.03 113.23 440.70 112.90" fill="none" stroke="#111" stroke-width="1.3" stroke-dasharray="3.6 2.2"/>
<path d="M480.60 52.40C483.38 53.20 493.13 55.58 497.30 57.20C501.47 58.82 503.63 58.62 505.60 62.10C507.57 65.58 508.87 72.77 509.10 78.10C509.33 83.43 509.20 89.82 507.00 94.10C504.80 98.38 499.83 101.72 495.90 103.80C491.97 105.88 487.68 106.95 483.40 106.60C479.12 106.25 473.22 104.47 470.20 101.70C467.18 98.93 466.50 94.45 465.30 90.00C464.10 85.55 462.55 80.00 463.00 75.00C463.45 70.00 467.17 62.50 468.00 60.00" fill="none" stroke="#111" stroke-width="1.3" stroke-dasharray="3.6 2.2"/>
<path d="M477.80 80.20C480.12 79.03 488.00 78.10 491.70 78.80C495.40 79.50 499.07 82.08 500.00 84.40C500.93 86.72 499.83 91.55 497.30 92.70C494.77 93.85 488.05 92.45 484.80 91.30C481.55 90.15 478.97 87.65 477.80 85.80C476.63 83.95 475.48 81.37 477.80 80.20Z" fill="none" stroke="#111" stroke-width="1.3" stroke-dasharray="3.6 2.2"/>
<path d="M498.70 57.90C501.72 58.60 511.93 59.78 516.80 62.10C521.67 64.42 525.82 68.08 527.90 71.80C529.98 75.52 530.47 80.92 529.30 84.40C528.13 87.88 523.92 91.77 520.90 92.70C517.88 93.63 513.05 92.08 511.20 90.00C509.35 87.92 510.03 81.83 509.80 80.20" fill="none" stroke="#111" stroke-width="1.3" stroke-dasharray="3.6 2.2"/>
<path d="M455.00 106.00C458.33 108.03 469.00 114.83 475.00 118.20C481.00 121.57 487.67 126.87 491.00 126.20C494.33 125.53 494.33 116.20 495.00 114.20" fill="none" stroke="#111" stroke-width="1.3" stroke-dasharray="3.6 2.2"/>
<text transform="translate(416.3,47) rotate(-70)" text-anchor="middle" y="3.2" font-size="9" fill="#111" stroke="#fff" stroke-width="1.6" paint-order="stroke" stroke-opacity="0.85">0</text>
<text transform="translate(440.7,59.1) rotate(0)" text-anchor="middle" y="3.2" font-size="9" fill="#111" stroke="#fff" stroke-width="1.6" paint-order="stroke" stroke-opacity="0.85">20</text>
<text transform="translate(454.6,79) rotate(-90)" text-anchor="middle" y="3.2" font-size="9" fill="#111" stroke="#fff" stroke-width="1.6" paint-order="stroke" stroke-opacity="0.85">20</text>
<text transform="translate(420.8,101.9) rotate(0)" text-anchor="middle" y="3.2" font-size="9" fill="#111" stroke="#fff" stroke-width="1.6" paint-order="stroke" stroke-opacity="0.85">-20</text>
<text transform="translate(458.6,109.9) rotate(-30)" text-anchor="middle" y="3.2" font-size="9" fill="#111" stroke="#fff" stroke-width="1.6" paint-order="stroke" stroke-opacity="0.85">0</text>
<text transform="translate(497.3,57.2) rotate(0)" text-anchor="middle" y="3.2" font-size="9" fill="#111" stroke="#fff" stroke-width="1.6" paint-order="stroke" stroke-opacity="0.85">0</text>
<text transform="translate(509.1,78.1) rotate(-70)" text-anchor="middle" y="3.2" font-size="9" fill="#111" stroke="#fff" stroke-width="1.6" paint-order="stroke" stroke-opacity="0.85">0</text>
<text transform="translate(470.2,101.7) rotate(-50)" text-anchor="middle" y="3.2" font-size="9" fill="#111" stroke="#fff" stroke-width="1.6" paint-order="stroke" stroke-opacity="0.85">0</text>
<g fill="none" stroke="#d2d2d2" stroke-width="0.5"><circle cx="469.5" cy="43.5" r="85.22"/><circle cx="469.5" cy="43.5" r="73.05"/><circle cx="469.5" cy="43.5" r="60.88"/><circle cx="469.5" cy="43.5" r="48.70"/><circle cx="469.5" cy="43.5" r="36.52"/><circle cx="469.5" cy="43.5" r="24.35"/><circle cx="469.5" cy="43.5" r="12.18"/><line x1="469.5" y1="43.5" x2="378.66" y2="78.64"/><line x1="469.5" y1="43.5" x2="399.55" y2="111.28"/><line x1="469.5" y1="43.5" x2="431.52" y2="133.19"/><line x1="469.5" y1="43.5" x2="469.50" y2="140.90"/><line x1="469.5" y1="43.5" x2="507.48" y2="133.19"/><line x1="469.5" y1="43.5" x2="539.45" y2="111.28"/><line x1="469.5" y1="43.5" x2="560.34" y2="78.64"/></g>
</g>
<path d="M372.15 40.44L469.50 43.50L566.85 40.44A97.4 97.4 0 1 1 372.15 40.44Z" fill="none" stroke="#707070" stroke-width="1.0"/>
<text transform="translate(372.60,80.99) rotate(68.8)" y="3.1" text-anchor="middle" font-size="8.5">150°E</text>
<text transform="translate(394.89,115.81) rotate(45.9)" y="3.1" text-anchor="middle" font-size="8.5">180°W</text>
<text transform="translate(428.99,139.18) rotate(23.0)" y="3.1" text-anchor="middle" font-size="8.5">150°W</text>
<text transform="translate(469.50,147.40) rotate(0.0)" y="3.1" text-anchor="middle" font-size="8.5">120°W</text>
<text transform="translate(510.01,139.18) rotate(-23.0)" y="3.1" text-anchor="middle" font-size="8.5">90°W</text>
<text transform="translate(544.11,115.81) rotate(-45.9)" y="3.1" text-anchor="middle" font-size="8.5">60°W</text>
<text transform="translate(566.40,80.99) rotate(-68.8)" y="3.1" text-anchor="middle" font-size="8.5">30°W</text>
<text transform="translate(372.40,38.40) rotate(90)" y="3" text-anchor="end" font-size="8.2">10°N</text>
<text transform="translate(383.70,38.75) rotate(90)" y="3" text-anchor="end" font-size="8.2">20°N</text>
<text transform="translate(395.00,39.10) rotate(90)" y="3" text-anchor="end" font-size="8.2">30°N</text>
<text transform="translate(406.30,39.45) rotate(90)" y="3" text-anchor="end" font-size="8.2">40°N</text>
<text transform="translate(417.60,39.80) rotate(90)" y="3" text-anchor="end" font-size="8.2">50°N</text>
<text transform="translate(428.90,40.15) rotate(90)" y="3" text-anchor="end" font-size="8.2">60°N</text>
<text transform="translate(440.20,40.50) rotate(90)" y="3" text-anchor="end" font-size="8.2">70°N</text>
<text transform="translate(451.50,40.85) rotate(90)" y="3" text-anchor="end" font-size="8.2">80°N</text>
<text transform="translate(367.3,49.6) rotate(-90)" y="3" font-size="7.7">120°E</text>
<text transform="translate(570.6,36.6) rotate(90)" y="3" font-size="8.2">0°</text>
<g transform="translate(0,-0.4)"><rect x="378.40" y="156.3" width="4.85" height="8.30" fill="#000eb3"/>
<rect x="382.95" y="156.3" width="4.85" height="8.30" fill="#0016bb"/>
<rect x="387.50" y="156.3" width="4.85" height="8.30" fill="#001ec3"/>
<rect x="392.04" y="156.3" width="4.85" height="8.30" fill="#0026cb"/>
<rect x="396.59" y="156.3" width="4.85" height="8.30" fill="#002ed3"/>
<rect x="401.14" y="156.3" width="4.85" height="8.30" fill="#0438d8"/>
<rect x="405.68" y="156.3" width="4.85" height="8.30" fill="#0c44da"/>
<rect x="410.23" y="156.3" width="4.85" height="8.30" fill="#1450dc"/>
<rect x="414.78" y="156.3" width="4.85" height="8.30" fill="#1c5cde"/>
<rect x="419.33" y="156.3" width="4.85" height="8.30" fill="#2468e0"/>
<rect x="423.88" y="156.3" width="4.85" height="8.30" fill="#3177e2"/>
<rect x="428.42" y="156.3" width="4.85" height="8.30" fill="#4288e5"/>
<rect x="432.97" y="156.3" width="4.85" height="8.30" fill="#549ae7"/>
<rect x="437.52" y="156.3" width="4.85" height="8.30" fill="#65abea"/>
<rect x="442.06" y="156.3" width="4.85" height="8.30" fill="#7bbced"/>
<rect x="446.61" y="156.3" width="4.85" height="8.30" fill="#96caf0"/>
<rect x="451.16" y="156.3" width="4.85" height="8.30" fill="#b1daf3"/>
<rect x="455.71" y="156.3" width="4.85" height="8.30" fill="#c9e6f7"/>
<rect x="460.25" y="156.3" width="4.85" height="8.30" fill="#dff0fa"/>
<rect x="464.80" y="156.3" width="4.85" height="8.30" fill="#ffffff"/>
<rect x="469.35" y="156.3" width="4.85" height="8.30" fill="#ffffff"/>
<rect x="473.90" y="156.3" width="4.85" height="8.30" fill="#faf0f0"/>
<rect x="478.44" y="156.3" width="4.85" height="8.30" fill="#f8e7e7"/>
<rect x="482.99" y="156.3" width="4.85" height="8.30" fill="#f5dddd"/>
<rect x="487.54" y="156.3" width="4.85" height="8.30" fill="#f3d2d2"/>
<rect x="492.09" y="156.3" width="4.85" height="8.30" fill="#f1c8c8"/>
<rect x="496.63" y="156.3" width="4.85" height="8.30" fill="#efbdbd"/>
<rect x="501.18" y="156.3" width="4.85" height="8.30" fill="#eeb2b2"/>
<rect x="505.73" y="156.3" width="4.85" height="8.30" fill="#eda7a7"/>
<rect x="510.28" y="156.3" width="4.85" height="8.30" fill="#ec9c9c"/>
<rect x="514.82" y="156.3" width="4.85" height="8.30" fill="#eb8b8b"/>
<rect x="519.37" y="156.3" width="4.85" height="8.30" fill="#eb7676"/>
<rect x="523.92" y="156.3" width="4.85" height="8.30" fill="#eb6262"/>
<rect x="528.47" y="156.3" width="4.85" height="8.30" fill="#eb4c4c"/>
<rect x="533.01" y="156.3" width="4.85" height="8.30" fill="#eb3737"/>
<rect x="537.56" y="156.3" width="4.85" height="8.30" fill="#e32929"/>
<rect x="542.11" y="156.3" width="4.85" height="8.30" fill="#d42020"/>
<rect x="546.66" y="156.3" width="4.85" height="8.30" fill="#c61818"/>
<rect x="551.20" y="156.3" width="4.85" height="8.30" fill="#af1313"/>
<rect x="555.75" y="156.3" width="4.85" height="8.30" fill="#911010"/>
<rect x="378.4" y="156.3" width="181.90" height="8.30" fill="none" stroke="#555" stroke-width="0.7"/>
<text x="378.40" y="177.5" text-anchor="middle" font-size="10">-2</text>
<line x1="378.40" y1="164.6" x2="378.40" y2="163.4" stroke="#555" stroke-width="0.6"/>
<text x="401.14" y="177.5" text-anchor="middle" font-size="10">-1.5</text>
<line x1="401.14" y1="164.6" x2="401.14" y2="163.4" stroke="#555" stroke-width="0.6"/>
<text x="423.88" y="177.5" text-anchor="middle" font-size="10">-1</text>
<line x1="423.88" y1="164.6" x2="423.88" y2="163.4" stroke="#555" stroke-width="0.6"/>
<text x="446.61" y="177.5" text-anchor="middle" font-size="10">-0.5</text>
<line x1="446.61" y1="164.6" x2="446.61" y2="163.4" stroke="#555" stroke-width="0.6"/>
<text x="469.35" y="177.5" text-anchor="middle" font-size="10">0</text>
<line x1="469.35" y1="164.6" x2="469.35" y2="163.4" stroke="#555" stroke-width="0.6"/>
<text x="492.09" y="177.5" text-anchor="middle" font-size="10">0.5</text>
<line x1="492.09" y1="164.6" x2="492.09" y2="163.4" stroke="#555" stroke-width="0.6"/>
<text x="514.82" y="177.5" text-anchor="middle" font-size="10">1</text>
<line x1="514.82" y1="164.6" x2="514.82" y2="163.4" stroke="#555" stroke-width="0.6"/>
<text x="537.56" y="177.5" text-anchor="middle" font-size="10">1.5</text>
<line x1="537.56" y1="164.6" x2="537.56" y2="163.4" stroke="#555" stroke-width="0.6"/>
<text x="560.30" y="177.5" text-anchor="middle" font-size="10">2</text>
<line x1="560.30" y1="164.6" x2="560.30" y2="163.4" stroke="#555" stroke-width="0.6"/>
<text x="565" y="163" font-size="9.5">K</text></g>
</g>
<g transform="translate(0,373.0)">
<text x="469.5" y="11.0" text-anchor="middle" font-size="12">Z500 &amp; SAT vs PDO plus VM</text>
<text x="349.3" y="16.1" font-family='"Liberation Serif", serif' font-size="17">(f)</text>
<clipPath id="clip2"><path d="M372.15 40.44L469.50 43.50L566.85 40.44A97.4 97.4 0 1 1 372.15 40.44Z"/></clipPath>
<g clip-path="url(#clip2)">
<g fill="#c4e4f6" opacity="1.0" filter="url(#bl15)"><path d="M373.00 41.00C367.67 43.83 374.67 52.83 376.00 58.00C377.33 63.17 379.00 67.33 381.00 72.00C383.00 76.67 384.67 81.40 388.00 86.00C391.33 90.60 396.00 95.77 401.00 99.60C406.00 103.43 412.17 106.77 418.00 109.00C423.83 111.23 431.33 113.50 436.00 113.00C440.67 112.50 445.17 108.23 446.00 106.00C446.83 103.77 445.05 102.98 441.00 99.60C436.95 96.22 426.53 89.13 421.70 85.70C416.87 82.27 414.67 81.62 412.00 79.00C409.33 76.38 406.87 73.83 405.70 70.00C404.53 66.17 404.62 60.83 405.00 56.00C405.38 51.17 413.33 43.50 408.00 41.00C402.67 38.50 378.33 38.17 373.00 41.00Z"/></g>
<g fill="#6eb4eb" opacity="1.0" filter="url(#bl20)"><path d="M421.80 94.00C423.63 92.17 431.13 92.00 435.00 93.00C438.87 94.00 443.17 97.50 445.00 100.00C446.83 102.50 447.67 106.33 446.00 108.00C444.33 109.67 438.67 110.67 435.00 110.00C431.33 109.33 426.20 106.67 424.00 104.00C421.80 101.33 419.97 95.83 421.80 94.00Z"/></g>
<g fill="#f9ecec" opacity="1.0" filter="url(#bl25)"><path d="M420.00 46.00C424.33 42.00 441.67 42.50 450.00 44.00C458.33 45.50 466.33 48.17 470.00 55.00C473.67 61.83 473.33 78.17 472.00 85.00C470.67 91.83 467.33 95.83 462.00 96.00C456.67 96.17 446.33 90.67 440.00 86.00C433.67 81.33 427.33 74.67 424.00 68.00C420.67 61.33 415.67 50.00 420.00 46.00Z"/></g>
<g fill="#eeb2b2" opacity="1.0" filter="url(#bl20)"><path d="M436.00 59.00C437.67 55.17 445.40 56.17 450.00 57.00C454.60 57.83 461.27 60.17 463.60 64.00C465.93 67.83 465.27 76.33 464.00 80.00C462.73 83.67 460.00 86.00 456.00 86.00C452.00 86.00 443.33 84.50 440.00 80.00C436.67 75.50 434.33 62.83 436.00 59.00Z"/></g>
<g fill="#eb6262" opacity="1.0" filter="url(#bl18)"><path d="M440.00 64.00C441.17 61.50 447.17 61.33 450.00 62.00C452.83 62.67 456.17 65.17 457.00 68.00C457.83 70.83 457.33 77.50 455.00 79.00C452.67 80.50 445.50 79.50 443.00 77.00C440.50 74.50 438.83 66.50 440.00 64.00Z"/></g>
<g fill="#f6e2e2" opacity="1.0" filter="url(#bl25)"><path d="M475.00 50.80C477.50 47.13 490.00 48.13 495.00 50.00C500.00 51.87 503.67 58.17 505.00 62.00C506.33 65.83 507.17 71.33 503.00 73.00C498.83 74.67 484.67 75.70 480.00 72.00C475.33 68.30 472.50 54.47 475.00 50.80Z"/></g>
<ellipse fill="#efb8b8" filter="url(#bl15)" cx="480" cy="61" rx="4" ry="3" transform="rotate(0 480 61)"/>
<g fill="#bee1f5" opacity="1.0" filter="url(#bl20)"><path d="M503.00 45.00C506.33 42.17 529.67 41.33 535.00 45.00C540.33 48.67 538.33 64.17 535.00 67.00C531.67 69.83 520.33 65.67 515.00 62.00C509.67 58.33 499.67 47.83 503.00 45.00Z"/></g>
<g fill="#f9ecec" opacity="1.0" filter="url(#bl20)"><path d="M545.00 43.00C547.83 40.83 561.67 40.00 565.00 42.00C568.33 44.00 567.83 52.83 565.00 55.00C562.17 57.17 551.33 57.00 548.00 55.00C544.67 53.00 542.17 45.17 545.00 43.00Z"/></g>
<g fill="#faeeee" opacity="1.0" filter="url(#bl30)"><path d="M430.00 118.00C434.17 113.33 446.67 109.67 455.00 110.00C463.33 110.33 472.50 115.83 480.00 120.00C487.50 124.17 501.67 131.33 500.00 135.00C498.33 138.67 481.67 141.50 470.00 142.00C458.33 142.50 436.67 142.00 430.00 138.00C423.33 134.00 425.83 122.67 430.00 118.00Z"/></g>
<g fill="#7bbced" opacity="1.0" filter="url(#bl20)"><path d="M482.00 82.00C484.83 76.83 494.83 78.33 500.00 79.00C505.17 79.67 510.67 81.67 513.00 86.00C515.33 90.33 515.33 99.33 514.00 105.00C512.67 110.67 509.00 116.83 505.00 120.00C501.00 123.17 493.67 125.67 490.00 124.00C486.33 122.33 484.33 117.00 483.00 110.00C481.67 103.00 479.17 87.17 482.00 82.00Z"/></g>
<g fill="#3177e2" opacity="1.0" filter="url(#bl20)"><path d="M489.00 86.00C491.33 83.67 500.00 83.67 503.00 86.00C506.00 88.33 507.83 97.00 507.00 100.00C506.17 103.00 501.00 104.00 498.00 104.00C495.00 104.00 490.50 103.00 489.00 100.00C487.50 97.00 486.67 88.33 489.00 86.00Z"/></g>
<path d="M373.00 41.00C367.67 43.83 374.67 52.83 376.00 58.00C377.33 63.17 379.00 67.33 381.00 72.00C383.00 76.67 384.67 81.40 388.00 86.00C391.33 90.60 396.00 95.77 401.00 99.60C406.00 103.43 412.17 106.77 418.00 109.00C423.83 111.23 431.33 113.50 436.00 113.00C440.67 112.50 445.17 108.23 446.00 106.00C446.83 103.77 445.05 102.98 441.00 99.60C436.95 96.22 426.53 89.13 421.70 85.70C416.87 82.27 414.67 81.62 412.00 79.00C409.33 76.38 406.87 73.83 405.70 70.00C404.53 66.17 404.62 60.83 405.00 56.00C405.38 51.17 413.33 43.50 408.00 41.00C402.67 38.50 378.33 38.17 373.00 41.00Z" fill="url(#stip)" opacity="1.0"/>
<path d="M503.00 45.00C506.33 42.17 529.67 41.33 535.00 45.00C540.33 48.67 538.33 64.17 535.00 67.00C531.67 69.83 520.33 65.67 515.00 62.00C509.67 58.33 499.67 47.83 503.00 45.00Z" fill="url(#stip)" opacity="1.0"/>
<path d="M545.00 43.00C547.83 40.83 561.67 40.00 565.00 42.00C568.33 44.00 567.83 52.83 565.00 55.00C562.17 57.17 551.33 57.00 548.00 55.00C544.67 53.00 542.17 45.17 545.00 43.00Z" fill="url(#stip)" opacity="1.0"/>
<path d="M430.00 115.00C435.83 109.67 446.67 107.17 455.00 108.00C463.33 108.83 469.17 118.33 480.00 120.00C490.83 121.67 510.00 122.17 520.00 118.00C530.00 113.83 534.17 98.00 540.00 95.00C545.83 92.00 556.67 93.33 555.00 100.00C553.33 106.67 544.17 127.33 530.00 135.00C515.83 142.67 488.33 145.17 470.00 146.00C451.67 146.83 426.67 145.17 420.00 140.00C413.33 134.83 424.17 120.33 430.00 115.00Z" fill="url(#stip)" opacity="1.0"/>
<path d="M430.00 50.00C434.67 45.83 453.33 45.00 460.00 50.00C466.67 55.00 470.83 73.33 470.00 80.00C469.17 86.67 461.33 90.83 455.00 90.00C448.67 89.17 436.17 81.67 432.00 75.00C427.83 68.33 425.33 54.17 430.00 50.00Z" fill="url(#stip)" opacity="0.6"/>
<path d="M452.0 66.9L452.0 68.4L451.3 70.9L450.2 71.6L449.4 75.5L450.6 77.6L448.4 79.1L446.8 79.6L450.2 79.4L452.1 79.1L453.9 77.8L455.1 76.4L456.6 77.7L459.7 79.3L461.2 81.6L462.7 85.6L464.6 89.5L466.2 93.3L466.7 95.8L466.1 100.6L466.3 104.3L467.4 107.0L469.0 111.1L470.9 111.7L472.3 113.2L473.4 116.4L475.0 118.8L477.9 122.2L480.4 124.3L479.0 122.1L477.0 118.6L474.8 115.1L476.9 117.4L479.2 119.6L481.6 121.7L484.1 123.8L485.8 126.5L488.5 128.4L493.0 129.2L498.0 129.2L502.5 129.3L508.2 128.5L510.3 129.2L512.8 130.7L515.7 129.3L514.0 127.4L511.3 123.6L508.5 124.7L505.9 123.9L505.1 118.9L502.3 120.9L502.7 123.3L500.2 125.0L496.7 125.5L493.7 122.7L492.9 117.8L492.8 115.3L493.9 113.3L496.4 112.1L498.5 111.9L499.6 109.7L502.4 108.7L503.4 108.5L505.7 110.0L508.8 111.9L509.2 110.8L507.1 108.3L504.9 106.0L505.6 102.8L506.8 98.8L505.3 97.2L504.9 93.7L504.2 92.7L505.0 91.0L505.9 89.7L504.4 87.8L505.5 85.6L505.7 84.7L507.0 85.9L508.0 80.8L504.6 82.4L503.2 80.3L504.5 77.4L504.4 74.7L503.9 73.5L500.3 72.9L496.1 71.1L493.7 70.1L494.2 72.8L492.7 72.5L490.2 71.3L487.3 71.9L489.1 74.3L490.7 76.2L492.4 79.4L493.6 83.0L493.4 83.8L490.9 82.4L489.8 80.6L485.9 80.2L482.4 79.2L481.3 76.1L481.9 73.9L483.0 72.1L482.0 69.2L481.9 65.8L478.6 68.7L477.1 68.6L473.9 70.5L471.6 69.6L469.2 68.5L464.4 68.6L462.6 67.4L460.2 65.4L458.8 63.6L456.5 64.1L454.0 64.9L452.0 66.9M500.5 62.8L498.5 63.7L494.5 62.9L490.4 60.3L487.8 58.6L485.6 57.5L481.4 55.7L478.9 55.5L477.9 54.7L477.4 52.8L476.5 50.3L476.7 46.8L479.0 45.8L482.6 46.5L486.1 47.3L490.7 49.2L492.9 50.1L494.3 53.5L496.0 57.2L498.9 60.7L500.5 62.8M491.9 68.4L490.9 66.9L489.6 63.9L486.8 63.2L484.6 61.8L481.1 61.4L478.5 61.4L478.9 64.6L482.2 65.0L484.6 65.6L487.4 68.1L490.1 68.3L491.9 68.4M477.9 57.6L477.1 54.5L475.6 50.3L474.3 50.5L473.8 53.6L475.2 57.0L476.9 58.2L477.9 57.6M479.1 59.7L478.2 58.2L475.9 58.6L475.9 60.6L479.1 59.7M474.6 68.6L475.9 67.0L473.9 65.0L471.4 64.1L470.1 66.6L471.2 69.0L474.6 68.6M468.0 66.0L468.5 62.3L469.8 64.2L469.5 66.6L468.0 66.0M484.1 71.6L482.7 69.6L485.3 70.2L485.2 71.7L484.1 71.6M476.5 63.6L476.4 61.7L475.4 62.1L475.7 63.9L476.5 63.6M473.1 61.4L473.2 59.5L471.3 59.8L470.7 61.7L473.1 61.4M481.6 -53.2L477.2 -47.5L477.7 -40.1L470.9 -39.3L465.1 -35.5L397.7 43.2L465.7 -23.4L405.6 43.6L467.2 -19.8L408.6 42.4L408.4 45.3L405.7 47.0L402.3 47.2L402.8 49.4L407.6 48.2L412.8 50.9L419.8 55.4L425.8 54.6L426.5 52.0L433.2 53.8L439.6 59.9L437.7 62.7L440.1 65.2L444.5 65.8L449.3 67.1L451.4 66.4L451.3 64.8L449.4 58.3L448.2 55.2L448.5 53.3L449.4 48.3L447.7 45.7M439.6 59.9L434.9 61.4L432.1 61.2L426.9 64.4L429.7 64.7L433.9 64.6L438.5 62.8L440.8 61.9M398.1 51.3L401.1 50.5L402.4 51.3L404.1 54.7L406.2 56.0L410.9 57.6L412.3 58.1L409.5 59.6L404.4 59.1L402.4 55.9L401.7 55.1L398.1 51.3M412.1 57.3L417.1 57.4L415.0 60.9L413.3 59.4L412.1 57.3M417.8 57.4L422.6 56.8L427.3 55.4L424.7 55.2L420.1 56.8L417.8 57.4M500.1 51.7L497.0 51.3L497.6 48.7L500.2 48.3L501.2 50.7L500.1 51.7M518.2 45.5L516.4 43.9L513.9 43.9L512.1 45.0L509.6 45.5L507.8 44.9L507.8 43.8L509.1 43.3L512.1 43.0L514.5 42.1L517.0 42.0M515.5 48.2L513.1 48.0L511.6 46.4L513.3 45.6L515.7 46.1L516.2 48.0L515.5 48.2M526.1 41.7L526.1 42.9L526.0 47.8L527.7 48.7L533.8 49.2L535.2 46.7L534.4 43.2L532.2 41.5M535.5 41.4L535.4 46.5L537.5 47.7L541.0 50.6L544.5 52.2L546.4 56.1L551.9 59.8L556.3 59.5L559.0 61.8L562.7 61.7L565.6 59.2M509.1 114.8L510.4 113.8L514.3 113.8L518.1 113.5L515.3 115.4L512.9 114.7L509.7 115.9L509.1 114.8M520.1 112.3L522.9 110.4L524.8 110.9L522.8 113.1L519.5 114.8L520.1 112.3" fill="none" stroke="#7a7a7a" stroke-width="0.65" stroke-linejoin="round"/>
<path d="M454.70 68.90C454.70 69.40 454.55 69.97 454.30 70.40C454.05 70.83 453.63 71.25 453.20 71.50C452.77 71.75 452.20 71.90 451.70 71.90C451.20 71.90 450.63 71.75 450.20 71.50C449.77 71.25 449.35 70.83 449.10 70.40C448.85 69.97 448.70 69.40 448.70 68.90C448.70 68.40 448.85 67.83 449.10 67.40C449.35 66.97 449.77 66.55 450.20 66.30C450.63 66.05 451.20 65.90 451.70 65.90C452.20 65.90 452.77 66.05 453.20 66.30C453.63 66.55 454.05 66.97 454.30 67.40C454.55 67.83 454.70 68.40 454.70 68.90Z" fill="none" stroke="#111" stroke-width="1.1"/>
<path d="M435.70 60.90C437.70 57.90 445.38 54.57 449.70 54.90C454.02 55.23 459.28 59.25 461.60 62.90C463.92 66.55 464.27 72.82 463.60 76.80C462.93 80.78 460.58 85.80 457.60 86.80C454.62 87.80 449.02 85.12 445.70 82.80C442.38 80.48 439.37 76.55 437.70 72.90C436.03 69.25 433.70 63.90 435.70 60.90Z" fill="none" stroke="#111" stroke-width="1.1"/>
<path d="M425.80 54.90C428.12 51.90 436.17 50.30 439.70 48.90C443.23 47.50 443.35 46.17 447.00 46.50C450.65 46.83 457.83 48.17 461.60 50.90C465.37 53.63 468.27 57.58 469.60 62.90C470.93 68.22 470.60 77.15 469.60 82.80C468.60 88.45 466.92 95.13 463.60 96.80C460.28 98.47 454.68 95.80 449.70 92.80C444.72 89.80 437.68 83.12 433.70 78.80C429.72 74.48 427.12 70.88 425.80 66.90C424.48 62.92 423.48 57.90 425.80 54.90Z" fill="none" stroke="#111" stroke-width="1.1"/>
<path d="M421.00 44.00C425.43 41.33 438.88 43.50 445.60 44.00C452.32 44.50 456.33 46.00 461.30 47.00C466.27 48.00 471.48 50.23 475.40 50.00C479.32 49.77 481.20 45.93 484.80 45.60C488.40 45.27 493.30 46.77 497.00 48.00C500.70 49.23 504.67 49.83 507.00 53.00C509.33 56.17 511.67 63.33 511.00 67.00C510.33 70.67 507.33 73.67 503.00 75.00C498.67 76.33 489.33 73.67 485.00 75.00C480.67 76.33 478.33 79.33 477.00 83.00C475.67 86.67 476.33 92.00 477.00 97.00C477.67 102.00 482.67 110.33 481.00 113.00C479.33 115.67 471.33 115.17 467.00 113.00C462.67 110.83 459.83 104.17 455.00 100.00C450.17 95.83 443.17 92.33 438.00 88.00C432.83 83.67 427.17 78.67 424.00 74.00C420.83 69.33 419.50 65.00 419.00 60.00C418.50 55.00 416.57 46.67 421.00 44.00Z" fill="none" stroke="#111" stroke-width="1.2"/>
<path d="M470.00 56.00C472.63 51.67 480.52 49.50 484.80 49.00C489.08 48.50 492.83 50.50 495.70 53.00C498.57 55.50 501.45 61.17 502.00 64.00C502.55 66.83 501.87 69.23 499.00 70.00C496.13 70.77 488.80 68.10 484.80 68.60C480.80 69.10 477.13 70.27 475.00 73.00C472.87 75.73 472.17 80.50 472.00 85.00C471.83 89.50 474.33 96.17 474.00 100.00C473.67 103.83 471.67 108.67 470.00 108.00C468.33 107.33 464.17 101.50 464.00 96.00C463.83 90.50 468.00 81.67 469.00 75.00C470.00 68.33 467.37 60.33 470.00 56.00Z" fill="none" stroke="#111" stroke-width="1.1"/>
<path d="M410.10 116.90C410.82 116.12 412.48 115.22 414.80 115.90C417.12 116.58 420.68 119.00 424.00 121.00C427.32 123.00 432.62 126.15 434.70 127.90C436.78 129.65 436.75 130.48 436.50 131.50C436.25 132.52 435.28 134.25 433.20 134.00C431.12 133.75 426.88 131.37 424.00 130.00C421.12 128.63 418.15 127.37 415.90 125.80C413.65 124.23 411.47 122.08 410.50 120.60C409.53 119.12 409.38 117.68 410.10 116.90Z" fill="none" stroke="#111" stroke-width="1.2"/>
<path d="M378.00 41.00C378.00 42.33 377.33 44.68 378.00 49.00C378.67 53.32 379.35 60.27 382.00 66.90C384.65 73.53 389.60 82.83 393.90 88.80C398.20 94.77 402.48 98.38 407.80 102.70C413.12 107.02 419.82 111.70 425.80 114.70C431.78 117.70 438.07 119.70 443.70 120.70C449.33 121.70 455.62 122.03 459.60 120.70C463.58 119.37 466.27 114.03 467.60 112.70" fill="none" stroke="#111" stroke-width="1.3" stroke-dasharray="3.6 2.2"/>
<path d="M391.90 41.00C392.07 44.32 391.57 54.27 392.90 60.90C394.23 67.53 396.75 75.15 399.90 80.80C403.05 86.45 406.82 90.48 411.80 94.80C416.78 99.12 423.48 103.38 429.80 106.70C436.12 110.02 444.07 113.37 449.70 114.70C455.33 116.03 461.28 114.70 463.60 114.70" fill="none" stroke="#111" stroke-width="1.3" stroke-dasharray="3.6 2.2"/>
<path d="M407.80 41.00C407.48 44.32 405.57 54.93 405.90 60.90C406.23 66.87 407.48 71.82 409.80 76.80C412.12 81.78 415.48 86.82 419.80 90.80C424.12 94.78 430.05 98.05 435.70 100.70C441.35 103.35 449.05 106.03 453.70 106.70C458.35 107.37 461.95 105.03 463.60 104.70" fill="none" stroke="#111" stroke-width="1.3" stroke-dasharray="3.6 2.2"/>
<path d="M415.80 41.00C415.47 44.32 413.47 55.27 413.80 60.90C414.13 66.53 415.77 70.78 417.80 74.80C419.83 78.82 422.68 82.00 426.00 85.00C429.32 88.00 433.75 90.50 437.70 92.80C441.65 95.10 445.72 98.13 449.70 98.80C453.68 99.47 459.62 97.13 461.60 96.80" fill="none" stroke="#111" stroke-width="1.3" stroke-dasharray="3.6 2.2"/>
<path d="M421.80 44.00C421.47 47.15 419.13 57.43 419.80 62.90C420.47 68.37 423.15 73.15 425.80 76.80C428.45 80.45 432.05 82.47 435.70 84.80C439.35 87.13 443.72 89.47 447.70 90.80C451.68 92.13 457.62 92.47 459.60 92.80" fill="none" stroke="#111" stroke-width="1.3" stroke-dasharray="3.6 2.2"/>
<path d="M451.48 109.10C451.26 109.52 450.89 109.88 450.42 110.15C449.95 110.42 449.34 110.61 448.65 110.71C447.96 110.81 447.15 110.83 446.29 110.75C445.43 110.67 444.47 110.50 443.50 110.26C442.53 110.01 441.49 109.67 440.48 109.27C439.46 108.87 438.41 108.38 437.42 107.86C436.43 107.33 435.43 106.73 434.54 106.11C433.64 105.49 432.77 104.82 432.02 104.15C431.28 103.49 430.60 102.79 430.06 102.12C429.52 101.45 429.07 100.77 428.77 100.14C428.47 99.52 428.29 98.90 428.24 98.36C428.20 97.82 428.30 97.32 428.52 96.90C428.74 96.48 429.11 96.12 429.58 95.85C430.05 95.58 430.66 95.39 431.35 95.29C432.04 95.19 432.85 95.17 433.71 95.25C434.57 95.33 435.53 95.50 436.50 95.74C437.47 95.99 438.51 96.33 439.52 96.73C440.54 97.13 441.59 97.62 442.58 98.14C443.57 98.67 444.57 99.27 445.46 99.89C446.36 100.51 447.23 101.18 447.98 101.85C448.72 102.51 449.40 103.21 449.94 103.88C450.48 104.55 450.93 105.23 451.23 105.86C451.53 106.48 451.71 107.10 451.76 107.64C451.80 108.18 451.70 108.68 451.48 109.10Z" fill="none" stroke="#111" stroke-width="1.3" stroke-dasharray="3.6 2.2"/>
<path d="M446.18 106.29C446.06 106.51 445.86 106.71 445.61 106.86C445.35 107.01 445.02 107.11 444.65 107.17C444.28 107.23 443.84 107.24 443.37 107.20C442.91 107.16 442.39 107.07 441.87 106.94C441.35 106.81 440.79 106.62 440.24 106.41C439.69 106.19 439.12 105.93 438.59 105.65C438.06 105.37 437.52 105.04 437.04 104.71C436.56 104.38 436.09 104.01 435.69 103.65C435.29 103.29 434.92 102.91 434.63 102.55C434.34 102.19 434.10 101.82 433.94 101.48C433.78 101.14 433.69 100.81 433.67 100.51C433.64 100.22 433.70 99.94 433.82 99.71C433.94 99.49 434.14 99.29 434.39 99.14C434.65 98.99 434.98 98.89 435.35 98.83C435.72 98.77 436.16 98.76 436.63 98.80C437.09 98.84 437.61 98.93 438.13 99.06C438.65 99.19 439.21 99.38 439.76 99.59C440.31 99.81 440.88 100.07 441.41 100.35C441.94 100.63 442.48 100.96 442.96 101.29C443.44 101.62 443.91 101.99 444.31 102.35C444.71 102.71 445.08 103.09 445.37 103.45C445.66 103.81 445.90 104.18 446.06 104.52C446.22 104.86 446.31 105.19 446.33 105.49C446.36 105.78 446.30 106.06 446.18 106.29Z" fill="none" stroke="#111" stroke-width="1.3" stroke-dasharray="3.6 2.2"/>
<path d="M483.00 79.00C486.17 75.67 495.33 76.33 500.00 77.00C504.67 77.67 508.50 79.00 511.00 83.00C513.50 87.00 516.33 95.67 515.00 101.00C513.67 106.33 508.00 112.33 503.00 115.00C498.00 117.67 488.67 120.00 485.00 117.00C481.33 114.00 481.33 103.33 481.00 97.00C480.67 90.67 479.83 82.33 483.00 79.00Z" fill="none" stroke="#111" stroke-width="1.3" stroke-dasharray="3.6 2.2"/>
<path d="M490.00 88.00C491.67 85.00 500.50 86.00 503.00 88.00C505.50 90.00 506.67 97.00 505.00 100.00C503.33 103.00 495.50 108.00 493.00 106.00C490.50 104.00 488.33 91.00 490.00 88.00Z" fill="none" stroke="#111" stroke-width="1.3" stroke-dasharray="3.6 2.2"/>
<path d="M519.00 65.00C519.33 68.00 521.33 76.67 521.00 83.00C520.67 89.33 519.67 96.67 517.00 103.00C514.33 109.33 509.00 116.67 505.00 121.00C501.00 125.33 497.33 128.33 493.00 129.00C488.67 129.67 483.33 127.00 479.00 125.00C474.67 123.00 470.00 118.00 467.00 117.00C464.00 116.00 462.00 118.67 461.00 119.00" fill="none" stroke="#111" stroke-width="1.3" stroke-dasharray="3.6 2.2"/>
<path d="M541.00 44.00C541.67 46.50 545.00 54.83 545.00 59.00C545.00 63.17 543.33 65.00 541.00 69.00C538.67 73.00 535.00 77.33 531.00 83.00C527.00 88.67 519.33 99.67 517.00 103.00" fill="none" stroke="#111" stroke-width="1.3" stroke-dasharray="3.6 2.2"/>
<path d="M510.00 44.00C512.00 45.83 518.67 52.00 522.00 55.00C525.33 58.00 528.67 60.83 530.00 62.00" fill="none" stroke="#111" stroke-width="1.3" stroke-dasharray="3.6 2.2"/>
<text transform="translate(393.9,88.8) rotate(-50)" text-anchor="middle" y="3.2" font-size="9" fill="#111" stroke="#fff" stroke-width="1.6" paint-order="stroke" stroke-opacity="0.85">0</text>
<text transform="translate(460.6,120.7) rotate(-30)" text-anchor="middle" y="3.2" font-size="9" fill="#111" stroke="#fff" stroke-width="1.6" paint-order="stroke" stroke-opacity="0.85">0</text>
<text transform="translate(425.8,84.8) rotate(0)" text-anchor="middle" y="3.2" font-size="9" fill="#111" stroke="#fff" stroke-width="1.6" paint-order="stroke" stroke-opacity="0.85">-20</text>
<text transform="translate(436,102.7) rotate(0)" text-anchor="middle" y="3.2" font-size="9" fill="#111" stroke="#fff" stroke-width="1.6" paint-order="stroke" stroke-opacity="0.85">-50</text>
<text transform="translate(499,59.4) rotate(0)" text-anchor="middle" y="3.2" font-size="9" fill="#111" stroke="#fff" stroke-width="1.6" paint-order="stroke" stroke-opacity="0.85">20</text>
<text transform="translate(512,95) rotate(-80)" text-anchor="middle" y="3.2" font-size="9" fill="#111" stroke="#fff" stroke-width="1.6" paint-order="stroke" stroke-opacity="0.85">-20</text>
<text transform="translate(493,129) rotate(0)" text-anchor="middle" y="3.2" font-size="9" fill="#111" stroke="#fff" stroke-width="1.6" paint-order="stroke" stroke-opacity="0.85">0</text>
<text transform="translate(545,59) rotate(-80)" text-anchor="middle" y="3.2" font-size="9" fill="#111" stroke="#fff" stroke-width="1.6" paint-order="stroke" stroke-opacity="0.85">0</text>
<text transform="translate(446,67) rotate(0)" text-anchor="middle" y="3.2" font-size="9" fill="#111" stroke="#fff" stroke-width="1.6" paint-order="stroke" stroke-opacity="0.85">20</text>
<text transform="translate(445.7,45.5) rotate(0)" text-anchor="middle" y="3.2" font-size="9" fill="#111" stroke="#fff" stroke-width="1.6" paint-order="stroke" stroke-opacity="0.85">20</text>
<text transform="translate(451.7,106.7) rotate(0)" text-anchor="middle" y="3.2" font-size="9" fill="#111" stroke="#fff" stroke-width="1.6" paint-order="stroke" stroke-opacity="0.85">-70</text>
<text transform="translate(500,77) rotate(0)" text-anchor="middle" y="3.2" font-size="9" fill="#111" stroke="#fff" stroke-width="1.6" paint-order="stroke" stroke-opacity="0.85">0</text>
<g fill="none" stroke="#d2d2d2" stroke-width="0.5"><circle cx="469.5" cy="43.5" r="85.22"/><circle cx="469.5" cy="43.5" r="73.05"/><circle cx="469.5" cy="43.5" r="60.88"/><circle cx="469.5" cy="43.5" r="48.70"/><circle cx="469.5" cy="43.5" r="36.52"/><circle cx="469.5" cy="43.5" r="24.35"/><circle cx="469.5" cy="43.5" r="12.18"/><line x1="469.5" y1="43.5" x2="378.66" y2="78.64"/><line x1="469.5" y1="43.5" x2="399.55" y2="111.28"/><line x1="469.5" y1="43.5" x2="431.52" y2="133.19"/><line x1="469.5" y1="43.5" x2="469.50" y2="140.90"/><line x1="469.5" y1="43.5" x2="507.48" y2="133.19"/><line x1="469.5" y1="43.5" x2="539.45" y2="111.28"/><line x1="469.5" y1="43.5" x2="560.34" y2="78.64"/></g>
</g>
<path d="M372.15 40.44L469.50 43.50L566.85 40.44A97.4 97.4 0 1 1 372.15 40.44Z" fill="none" stroke="#707070" stroke-width="1.0"/>
<text transform="translate(372.60,80.99) rotate(68.8)" y="3.1" text-anchor="middle" font-size="8.5">150°E</text>
<text transform="translate(394.89,115.81) rotate(45.9)" y="3.1" text-anchor="middle" font-size="8.5">180°W</text>
<text transform="translate(428.99,139.18) rotate(23.0)" y="3.1" text-anchor="middle" font-size="8.5">150°W</text>
<text transform="translate(469.50,147.40) rotate(0.0)" y="3.1" text-anchor="middle" font-size="8.5">120°W</text>
<text transform="translate(510.01,139.18) rotate(-23.0)" y="3.1" text-anchor="middle" font-size="8.5">90°W</text>
<text transform="translate(544.11,115.81) rotate(-45.9)" y="3.1" text-anchor="middle" font-size="8.5">60°W</text>
<text transform="translate(566.40,80.99) rotate(-68.8)" y="3.1" text-anchor="middle" font-size="8.5">30°W</text>
<text transform="translate(372.40,38.40) rotate(90)" y="3" text-anchor="end" font-size="8.2">10°N</text>
<text transform="translate(383.70,38.75) rotate(90)" y="3" text-anchor="end" font-size="8.2">20°N</text>
<text transform="translate(395.00,39.10) rotate(90)" y="3" text-anchor="end" font-size="8.2">30°N</text>
<text transform="translate(406.30,39.45) rotate(90)" y="3" text-anchor="end" font-size="8.2">40°N</text>
<text transform="translate(417.60,39.80) rotate(90)" y="3" text-anchor="end" font-size="8.2">50°N</text>
<text transform="translate(428.90,40.15) rotate(90)" y="3" text-anchor="end" font-size="8.2">60°N</text>
<text transform="translate(440.20,40.50) rotate(90)" y="3" text-anchor="end" font-size="8.2">70°N</text>
<text transform="translate(451.50,40.85) rotate(90)" y="3" text-anchor="end" font-size="8.2">80°N</text>
<text transform="translate(367.3,49.6) rotate(-90)" y="3" font-size="7.7">120°E</text>
<text transform="translate(570.6,36.6) rotate(90)" y="3" font-size="8.2">0°</text>
<g transform="translate(0,-0.6)"><rect x="378.40" y="156.3" width="4.85" height="8.30" fill="#000eb3"/>
<rect x="382.95" y="156.3" width="4.85" height="8.30" fill="#0016bb"/>
<rect x="387.50" y="156.3" width="4.85" height="8.30" fill="#001ec3"/>
<rect x="392.04" y="156.3" width="4.85" height="8.30" fill="#0026cb"/>
<rect x="396.59" y="156.3" width="4.85" height="8.30" fill="#002ed3"/>
<rect x="401.14" y="156.3" width="4.85" height="8.30" fill="#0438d8"/>
<rect x="405.68" y="156.3" width="4.85" height="8.30" fill="#0c44da"/>
<rect x="410.23" y="156.3" width="4.85" height="8.30" fill="#1450dc"/>
<rect x="414.78" y="156.3" width="4.85" height="8.30" fill="#1c5cde"/>
<rect x="419.33" y="156.3" width="4.85" height="8.30" fill="#2468e0"/>
<rect x="423.88" y="156.3" width="4.85" height="8.30" fill="#3177e2"/>
<rect x="428.42" y="156.3" width="4.85" height="8.30" fill="#4288e5"/>
<rect x="432.97" y="156.3" width="4.85" height="8.30" fill="#549ae7"/>
<rect x="437.52" y="156.3" width="4.85" height="8.30" fill="#65abea"/>
<rect x="442.06" y="156.3" width="4.85" height="8.30" fill="#7bbced"/>
<rect x="446.61" y="156.3" width="4.85" height="8.30" fill="#96caf0"/>
<rect x="451.16" y="156.3" width="4.85" height="8.30" fill="#b1daf3"/>
<rect x="455.71" y="156.3" width="4.85" height="8.30" fill="#c9e6f7"/>
<rect x="460.25" y="156.3" width="4.85" height="8.30" fill="#dff0fa"/>
<rect x="464.80" y="156.3" width="4.85" height="8.30" fill="#ffffff"/>
<rect x="469.35" y="156.3" width="4.85" height="8.30" fill="#ffffff"/>
<rect x="473.90" y="156.3" width="4.85" height="8.30" fill="#faf0f0"/>
<rect x="478.44" y="156.3" width="4.85" height="8.30" fill="#f8e7e7"/>
<rect x="482.99" y="156.3" width="4.85" height="8.30" fill="#f5dddd"/>
<rect x="487.54" y="156.3" width="4.85" height="8.30" fill="#f3d2d2"/>
<rect x="492.09" y="156.3" width="4.85" height="8.30" fill="#f1c8c8"/>
<rect x="496.63" y="156.3" width="4.85" height="8.30" fill="#efbdbd"/>
<rect x="501.18" y="156.3" width="4.85" height="8.30" fill="#eeb2b2"/>
<rect x="505.73" y="156.3" width="4.85" height="8.30" fill="#eda7a7"/>
<rect x="510.28" y="156.3" width="4.85" height="8.30" fill="#ec9c9c"/>
<rect x="514.82" y="156.3" width="4.85" height="8.30" fill="#eb8b8b"/>
<rect x="519.37" y="156.3" width="4.85" height="8.30" fill="#eb7676"/>
<rect x="523.92" y="156.3" width="4.85" height="8.30" fill="#eb6262"/>
<rect x="528.47" y="156.3" width="4.85" height="8.30" fill="#eb4c4c"/>
<rect x="533.01" y="156.3" width="4.85" height="8.30" fill="#eb3737"/>
<rect x="537.56" y="156.3" width="4.85" height="8.30" fill="#e32929"/>
<rect x="542.11" y="156.3" width="4.85" height="8.30" fill="#d42020"/>
<rect x="546.66" y="156.3" width="4.85" height="8.30" fill="#c61818"/>
<rect x="551.20" y="156.3" width="4.85" height="8.30" fill="#af1313"/>
<rect x="555.75" y="156.3" width="4.85" height="8.30" fill="#911010"/>
<rect x="378.4" y="156.3" width="181.90" height="8.30" fill="none" stroke="#555" stroke-width="0.7"/>
<text x="378.40" y="177.5" text-anchor="middle" font-size="10">-2</text>
<line x1="378.40" y1="164.6" x2="378.40" y2="163.4" stroke="#555" stroke-width="0.6"/>
<text x="401.14" y="177.5" text-anchor="middle" font-size="10">-1.5</text>
<line x1="401.14" y1="164.6" x2="401.14" y2="163.4" stroke="#555" stroke-width="0.6"/>
<text x="423.88" y="177.5" text-anchor="middle" font-size="10">-1</text>
<line x1="423.88" y1="164.6" x2="423.88" y2="163.4" stroke="#555" stroke-width="0.6"/>
<text x="446.61" y="177.5" text-anchor="middle" font-size="10">-0.5</text>
<line x1="446.61" y1="164.6" x2="446.61" y2="163.4" stroke="#555" stroke-width="0.6"/>
<text x="469.35" y="177.5" text-anchor="middle" font-size="10">0</text>
<line x1="469.35" y1="164.6" x2="469.35" y2="163.4" stroke="#555" stroke-width="0.6"/>
<text x="492.09" y="177.5" text-anchor="middle" font-size="10">0.5</text>
<line x1="492.09" y1="164.6" x2="492.09" y2="163.4" stroke="#555" stroke-width="0.6"/>
<text x="514.82" y="177.5" text-anchor="middle" font-size="10">1</text>
<line x1="514.82" y1="164.6" x2="514.82" y2="163.4" stroke="#555" stroke-width="0.6"/>
<text x="537.56" y="177.5" text-anchor="middle" font-size="10">1.5</text>
<line x1="537.56" y1="164.6" x2="537.56" y2="163.4" stroke="#555" stroke-width="0.6"/>
<text x="560.30" y="177.5" text-anchor="middle" font-size="10">2</text>
<line x1="560.30" y1="164.6" x2="560.30" y2="163.4" stroke="#555" stroke-width="0.6"/>
<text x="565" y="163" font-size="9.5">K</text></g>
</g>
</svg></body></html>
